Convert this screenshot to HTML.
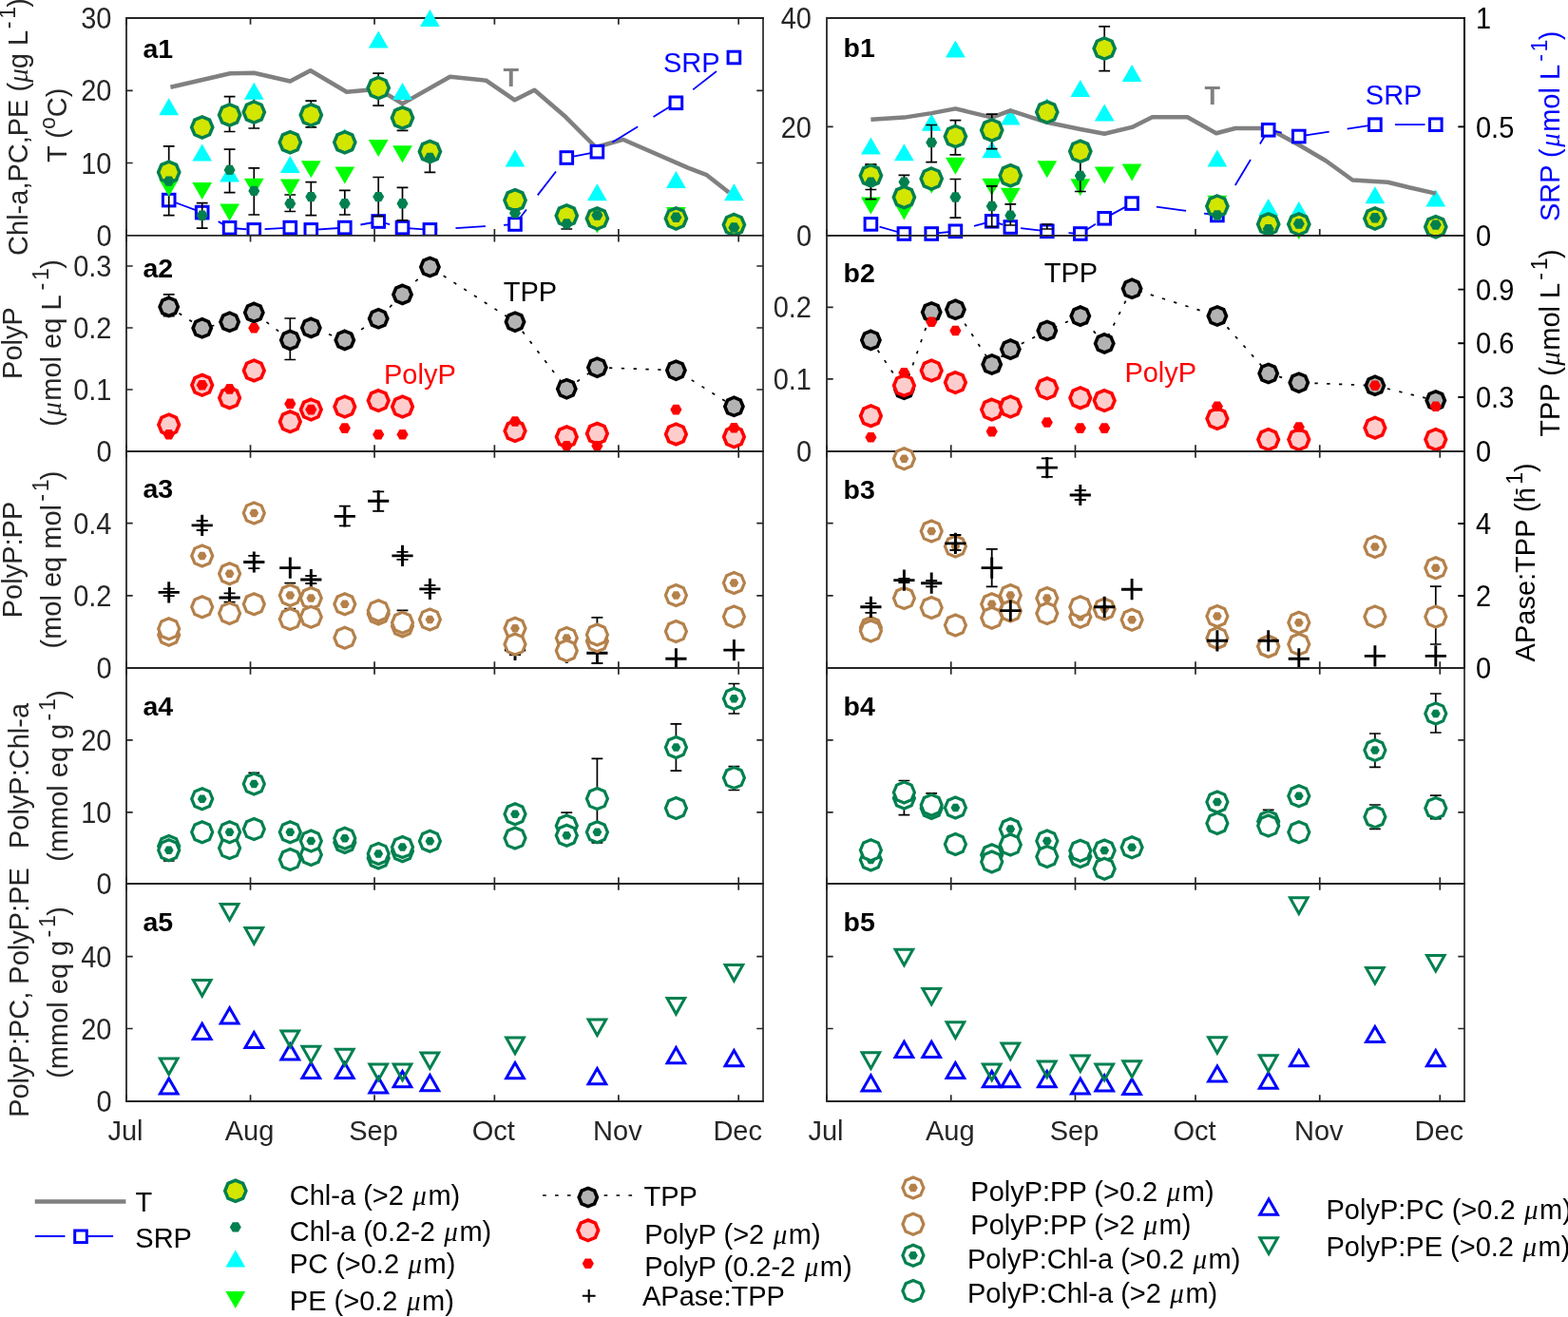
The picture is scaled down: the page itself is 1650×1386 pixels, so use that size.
<!DOCTYPE html><html><head><meta charset="utf-8"><title>Figure</title><style>html,body{margin:0;padding:0;background:#fff;}svg{display:block;}text{font-family:"Liberation Sans",Arial,sans-serif;}</style></head><body>
<svg width="1650" height="1386" viewBox="0 0 1650 1386">
<rect width="1650" height="1386" fill="#fff"/>
<rect x="133" y="19" width="670" height="228.8" fill="#fff"/>
<path d="M133 247.8V241.1M133 19V25.7M263.53 247.8V241.1M263.53 19V25.7M394.05 247.8V241.1M394.05 19V25.7M520.37 247.8V241.1M520.37 19V25.7M650.89 247.8V241.1M650.89 19V25.7M777.21 247.8V241.1M777.21 19V25.7M133 247.8H139.7M133 171.5H139.7M133 95.3H139.7" stroke="#262626" stroke-width="1.7" fill="none"/>
<path d="M803 247.8H796.3M803 171.5H796.3M803 95.3H796.3" stroke="#262626" stroke-width="1.7" fill="none"/>
<path d="M133 19H803M133 247.8H803M133 19V247.8" stroke="#262626" stroke-width="1.8" fill="none" stroke-linecap="square"/>
<path d="M803 19V247.8" stroke="#262626" stroke-width="1.7" fill="none" stroke-linecap="square"/>
<polyline points="179.4,91.7 242.2,77.3 267.3,76.7 305.3,85.5 326.7,74.2 364.8,96.8 398.2,93.8 423.5,109.1 473.6,80.7 511.8,84.8 541.6,105.3 562.4,94.8 595.5,123.3 627,155 655.5,146.8 724,176.6 743.7,184.2 767,202.5" fill="none" stroke="#808080" stroke-width="4.5" stroke-linejoin="round" stroke-linecap="butt"/>
<polyline points="177.7,210.6 212.7,223.6 241.6,239.8 267.3,241.9 305.3,239.6 327.3,241.9 362.8,239.6 398.2,233 423.5,239.6 452.4,241.9 542,236 596.3,166 628.4,159.7 711.4,108.3 772.4,60.5" fill="none" stroke="#0000ff" stroke-width="1.8" stroke-linejoin="round" stroke-dasharray="31.5 19.2" stroke-dashoffset="-6.1"/>
<rect x="171.4" y="204.3" width="12.6" height="12.6" fill="#fff" stroke="#0000ff" stroke-width="3"/>
<rect x="206.4" y="217.3" width="12.6" height="12.6" fill="#fff" stroke="#0000ff" stroke-width="3"/>
<rect x="235.3" y="233.5" width="12.6" height="12.6" fill="#fff" stroke="#0000ff" stroke-width="3"/>
<rect x="261" y="235.6" width="12.6" height="12.6" fill="#fff" stroke="#0000ff" stroke-width="3"/>
<rect x="299" y="233.3" width="12.6" height="12.6" fill="#fff" stroke="#0000ff" stroke-width="3"/>
<rect x="321" y="235.6" width="12.6" height="12.6" fill="#fff" stroke="#0000ff" stroke-width="3"/>
<rect x="356.5" y="233.3" width="12.6" height="12.6" fill="#fff" stroke="#0000ff" stroke-width="3"/>
<rect x="391.9" y="226.7" width="12.6" height="12.6" fill="#fff" stroke="#0000ff" stroke-width="3"/>
<rect x="417.2" y="233.3" width="12.6" height="12.6" fill="#fff" stroke="#0000ff" stroke-width="3"/>
<rect x="446.1" y="235.6" width="12.6" height="12.6" fill="#fff" stroke="#0000ff" stroke-width="3"/>
<rect x="535.7" y="229.7" width="12.6" height="12.6" fill="#fff" stroke="#0000ff" stroke-width="3"/>
<rect x="590" y="159.7" width="12.6" height="12.6" fill="#fff" stroke="#0000ff" stroke-width="3"/>
<rect x="622.1" y="153.4" width="12.6" height="12.6" fill="#fff" stroke="#0000ff" stroke-width="3"/>
<rect x="705.1" y="102" width="12.6" height="12.6" fill="#fff" stroke="#0000ff" stroke-width="3"/>
<rect x="766.1" y="54.2" width="12.6" height="12.6" fill="#fff" stroke="#0000ff" stroke-width="3"/>
<path d="M177.7 153.9V226.7M171.8 153.9H183.6M171.8 226.7H183.6" stroke="#000" stroke-width="1.7" fill="none"/>
<path d="M212.7 213.7V240.1M206.8 213.7H218.6M206.8 240.1H218.6" stroke="#000" stroke-width="1.7" fill="none"/>
<path d="M241.6 101.6V138.5M235.7 101.6H247.5M235.7 138.5H247.5" stroke="#000" stroke-width="1.7" fill="none"/>
<path d="M241.6 157.2V202.6M235.7 157.2H247.5M235.7 202.6H247.5" stroke="#000" stroke-width="1.7" fill="none"/>
<path d="M267.3 101V135M261.4 101H273.2M261.4 135H273.2" stroke="#000" stroke-width="1.7" fill="none"/>
<path d="M267.3 176.8V226M261.4 176.8H273.2M261.4 226H273.2" stroke="#000" stroke-width="1.7" fill="none"/>
<path d="M305.3 205V222.5M299.4 205H311.2M299.4 222.5H311.2" stroke="#000" stroke-width="1.7" fill="none"/>
<path d="M327.3 106.1V133.9M321.4 106.1H333.2M321.4 133.9H333.2" stroke="#000" stroke-width="1.7" fill="none"/>
<path d="M327.3 191.6V226.7M321.4 191.6H333.2M321.4 226.7H333.2" stroke="#000" stroke-width="1.7" fill="none"/>
<path d="M362.8 200.3V226M356.9 200.3H368.7M356.9 226H368.7" stroke="#000" stroke-width="1.7" fill="none"/>
<path d="M398.2 77.1V111.1M392.3 77.1H404.1M392.3 111.1H404.1" stroke="#000" stroke-width="1.7" fill="none"/>
<path d="M398.2 186.5V227.7M392.3 186.5H404.1M392.3 227.7H404.1" stroke="#000" stroke-width="1.7" fill="none"/>
<path d="M423.5 114V137.4M417.6 114H429.4M417.6 137.4H429.4" stroke="#000" stroke-width="1.7" fill="none"/>
<path d="M423.5 197.4V231.8M417.6 197.4H429.4M417.6 231.8H429.4" stroke="#000" stroke-width="1.7" fill="none"/>
<path d="M452.4 150V181.3M446.5 150H458.3M446.5 181.3H458.3" stroke="#000" stroke-width="1.7" fill="none"/>
<path d="M596.3 230V241M590.4 230H602.2M590.4 241H602.2" stroke="#000" stroke-width="1.7" fill="none"/>
<polygon points="177.7,103.3 188.1,121.3 167.3,121.3" fill="#00ffff"/>
<polygon points="212.7,151.5 223.1,169.5 202.3,169.5" fill="#00ffff"/>
<polygon points="241.6,173.4 252,191.4 231.2,191.4" fill="#00ffff"/>
<polygon points="267.3,86.8 277.7,104.8 256.9,104.8" fill="#00ffff"/>
<polygon points="305.3,164.1 315.7,182.1 294.9,182.1" fill="#00ffff"/>
<polygon points="362.8,135.2 373.2,153.2 352.4,153.2" fill="#00ffff"/>
<polygon points="398.2,32.4 408.6,50.4 387.8,50.4" fill="#00ffff"/>
<polygon points="423.5,87 433.9,105 413.1,105" fill="#00ffff"/>
<polygon points="452.4,10 462.8,28 442,28" fill="#00ffff"/>
<polygon points="542,157.4 552.4,175.4 531.6,175.4" fill="#00ffff"/>
<polygon points="628.4,193.3 638.8,211.3 618,211.3" fill="#00ffff"/>
<polygon points="711.4,180.1 721.8,198.1 701,198.1" fill="#00ffff"/>
<polygon points="772.4,193.3 782.8,211.3 762,211.3" fill="#00ffff"/>
<polygon points="167.3,188.8 188.1,188.8 177.7,206.8" fill="#00ff00"/>
<polygon points="202.3,191.9 223.1,191.9 212.7,209.9" fill="#00ff00"/>
<polygon points="231.2,214.6 252,214.6 241.6,232.6" fill="#00ff00"/>
<polygon points="256.9,187.8 277.7,187.8 267.3,205.8" fill="#00ff00"/>
<polygon points="294.9,188.4 315.7,188.4 305.3,206.4" fill="#00ff00"/>
<polygon points="316.9,169.2 337.7,169.2 327.3,187.2" fill="#00ff00"/>
<polygon points="352.4,175.4 373.2,175.4 362.8,193.4" fill="#00ff00"/>
<polygon points="387.8,147 408.6,147 398.2,165" fill="#00ff00"/>
<polygon points="413.1,153.2 433.9,153.2 423.5,171.2" fill="#00ff00"/>
<polygon points="618,227.5 638.8,227.5 628.4,245.5" fill="#00ff00"/>
<polygon points="701,218 721.8,218 711.4,236" fill="#00ff00"/>
<polygon points="177.7,170.2 185.55,173.45 188.8,181.3 185.55,189.15 177.7,192.4 169.85,189.15 166.6,181.3 169.85,173.45" fill="#d2e600" stroke="#00804f" stroke-width="3.5"/>
<polygon points="212.7,122.8 220.55,126.05 223.8,133.9 220.55,141.75 212.7,145 204.85,141.75 201.6,133.9 204.85,126.05" fill="#d2e600" stroke="#00804f" stroke-width="3.5"/>
<polygon points="241.6,109.9 249.45,113.15 252.7,121 249.45,128.85 241.6,132.1 233.75,128.85 230.5,121 233.75,113.15" fill="#d2e600" stroke="#00804f" stroke-width="3.5"/>
<polygon points="267.3,107 275.15,110.25 278.4,118.1 275.15,125.95 267.3,129.2 259.45,125.95 256.2,118.1 259.45,110.25" fill="#d2e600" stroke="#00804f" stroke-width="3.5"/>
<polygon points="305.3,138.7 313.15,141.95 316.4,149.8 313.15,157.65 305.3,160.9 297.45,157.65 294.2,149.8 297.45,141.95" fill="#d2e600" stroke="#00804f" stroke-width="3.5"/>
<polygon points="327.3,109.9 335.15,113.15 338.4,121 335.15,128.85 327.3,132.1 319.45,128.85 316.2,121 319.45,113.15" fill="#d2e600" stroke="#00804f" stroke-width="3.5"/>
<polygon points="362.8,138.7 370.65,141.95 373.9,149.8 370.65,157.65 362.8,160.9 354.95,157.65 351.7,149.8 354.95,141.95" fill="#d2e600" stroke="#00804f" stroke-width="3.5"/>
<polygon points="398.2,81.5 406.05,84.75 409.3,92.6 406.05,100.45 398.2,103.7 390.35,100.45 387.1,92.6 390.35,84.75" fill="#d2e600" stroke="#00804f" stroke-width="3.5"/>
<polygon points="423.5,112.9 431.35,116.15 434.6,124 431.35,131.85 423.5,135.1 415.65,131.85 412.4,124 415.65,116.15" fill="#d2e600" stroke="#00804f" stroke-width="3.5"/>
<polygon points="452.4,148.4 460.25,151.65 463.5,159.5 460.25,167.35 452.4,170.6 444.55,167.35 441.3,159.5 444.55,151.65" fill="#d2e600" stroke="#00804f" stroke-width="3.5"/>
<polygon points="542,199.7 549.85,202.95 553.1,210.8 549.85,218.65 542,221.9 534.15,218.65 530.9,210.8 534.15,202.95" fill="#d2e600" stroke="#00804f" stroke-width="3.5"/>
<polygon points="596.3,215.9 604.15,219.15 607.4,227 604.15,234.85 596.3,238.1 588.45,234.85 585.2,227 588.45,219.15" fill="#d2e600" stroke="#00804f" stroke-width="3.5"/>
<polygon points="628.4,218.8 636.25,222.05 639.5,229.9 636.25,237.75 628.4,241 620.55,237.75 617.3,229.9 620.55,222.05" fill="#d2e600" stroke="#00804f" stroke-width="3.5"/>
<polygon points="711.4,218.8 719.25,222.05 722.5,229.9 719.25,237.75 711.4,241 703.55,237.75 700.3,229.9 703.55,222.05" fill="#d2e600" stroke="#00804f" stroke-width="3.5"/>
<polygon points="772.4,225.5 780.25,228.75 783.5,236.6 780.25,244.45 772.4,247.7 764.55,244.45 761.3,236.6 764.55,228.75" fill="#d2e600" stroke="#00804f" stroke-width="3.5"/>
<polygon points="183.7,190.6 180.7,195.8 174.7,195.8 171.7,190.6 174.7,185.4 180.7,185.4" fill="#00804f"/>
<polygon points="218.7,226.7 215.7,231.9 209.7,231.9 206.7,226.7 209.7,221.5 215.7,221.5" fill="#00804f"/>
<polygon points="247.6,178.9 244.6,184.1 238.6,184.1 235.6,178.9 238.6,173.7 244.6,173.7" fill="#00804f"/>
<polygon points="273.3,200.9 270.3,206.1 264.3,206.1 261.3,200.9 264.3,195.7 270.3,195.7" fill="#00804f"/>
<polygon points="311.3,214.3 308.3,219.5 302.3,219.5 299.3,214.3 302.3,209.1 308.3,209.1" fill="#00804f"/>
<polygon points="333.3,207.1 330.3,212.3 324.3,212.3 321.3,207.1 324.3,201.9 330.3,201.9" fill="#00804f"/>
<polygon points="368.8,214.3 365.8,219.5 359.8,219.5 356.8,214.3 359.8,209.1 365.8,209.1" fill="#00804f"/>
<polygon points="404.2,207.1 401.2,212.3 395.2,212.3 392.2,207.1 395.2,201.9 401.2,201.9" fill="#00804f"/>
<polygon points="429.5,214.3 426.5,219.5 420.5,219.5 417.5,214.3 420.5,209.1 426.5,209.1" fill="#00804f"/>
<polygon points="458.4,165.9 455.4,171.1 449.4,171.1 446.4,165.9 449.4,160.7 455.4,160.7" fill="#00804f"/>
<polygon points="548,224.3 545,229.5 539,229.5 536,224.3 539,219.1 545,219.1" fill="#00804f"/>
<polygon points="602.3,235.5 599.3,240.7 593.3,240.7 590.3,235.5 593.3,230.3 599.3,230.3" fill="#00804f"/>
<polygon points="634.4,226.5 631.4,231.7 625.4,231.7 622.4,226.5 625.4,221.3 631.4,221.3" fill="#00804f"/>
<polygon points="717.4,228.7 714.4,233.9 708.4,233.9 705.4,228.7 708.4,223.5 714.4,223.5" fill="#00804f"/>
<polygon points="778.4,239.5 775.4,244.7 769.4,244.7 766.4,239.5 769.4,234.3 775.4,234.3" fill="#00804f"/>
<text x="150.5" y="60.8" font-size="28.5" text-anchor="start" fill="#000" font-weight="bold">a1</text>
<rect x="133" y="247.8" width="670" height="227.2" fill="#fff"/>
<path d="M133 475V468.3M133 247.8V254.5M263.53 475V468.3M263.53 247.8V254.5M394.05 475V468.3M394.05 247.8V254.5M520.37 475V468.3M520.37 247.8V254.5M650.89 475V468.3M650.89 247.8V254.5M777.21 475V468.3M777.21 247.8V254.5M133 475H139.7M133 410H139.7M133 345H139.7M133 280H139.7" stroke="#262626" stroke-width="1.7" fill="none"/>
<path d="M803 475H796.3M803 410H796.3M803 345H796.3M803 280H796.3" stroke="#262626" stroke-width="1.7" fill="none"/>
<path d="M133 247.8H803M133 475H803M133 247.8V475" stroke="#262626" stroke-width="1.8" fill="none" stroke-linecap="square"/>
<path d="M803 247.8V475" stroke="#262626" stroke-width="1.7" fill="none" stroke-linecap="square"/>
<polyline points="177.7,322.9 212.7,345.3 241.6,338.8 267.3,328.9 305.3,357.9 327.3,344.9 362.8,357.9 398.2,335.3 423.5,309.9 452.4,281 542,338.7 596.3,409.2 628.4,386.7 711.4,389.7 772.4,427.8" fill="none" stroke="#000" stroke-width="1.7" stroke-linejoin="round" stroke-dasharray="3.3 9.5"/>
<path d="M177.7 309.9V332.6M171.8 309.9H183.6M171.8 332.6H183.6" stroke="#000" stroke-width="1.7" fill="none"/>
<path d="M305.3 335V378.5M299.4 335H311.2M299.4 378.5H311.2" stroke="#000" stroke-width="1.7" fill="none"/>
<polygon points="177.7,313.3 184.49,316.11 187.3,322.9 184.49,329.69 177.7,332.5 170.91,329.69 168.1,322.9 170.91,316.11" fill="#b3b3b3" stroke="#000" stroke-width="3.6"/>
<polygon points="212.7,335.7 219.49,338.51 222.3,345.3 219.49,352.09 212.7,354.9 205.91,352.09 203.1,345.3 205.91,338.51" fill="#b3b3b3" stroke="#000" stroke-width="3.6"/>
<polygon points="241.6,329.2 248.39,332.01 251.2,338.8 248.39,345.59 241.6,348.4 234.81,345.59 232,338.8 234.81,332.01" fill="#b3b3b3" stroke="#000" stroke-width="3.6"/>
<polygon points="267.3,319.3 274.09,322.11 276.9,328.9 274.09,335.69 267.3,338.5 260.51,335.69 257.7,328.9 260.51,322.11" fill="#b3b3b3" stroke="#000" stroke-width="3.6"/>
<polygon points="305.3,348.3 312.09,351.11 314.9,357.9 312.09,364.69 305.3,367.5 298.51,364.69 295.7,357.9 298.51,351.11" fill="#b3b3b3" stroke="#000" stroke-width="3.6"/>
<polygon points="327.3,335.3 334.09,338.11 336.9,344.9 334.09,351.69 327.3,354.5 320.51,351.69 317.7,344.9 320.51,338.11" fill="#b3b3b3" stroke="#000" stroke-width="3.6"/>
<polygon points="362.8,348.3 369.59,351.11 372.4,357.9 369.59,364.69 362.8,367.5 356.01,364.69 353.2,357.9 356.01,351.11" fill="#b3b3b3" stroke="#000" stroke-width="3.6"/>
<polygon points="398.2,325.7 404.99,328.51 407.8,335.3 404.99,342.09 398.2,344.9 391.41,342.09 388.6,335.3 391.41,328.51" fill="#b3b3b3" stroke="#000" stroke-width="3.6"/>
<polygon points="423.5,300.3 430.29,303.11 433.1,309.9 430.29,316.69 423.5,319.5 416.71,316.69 413.9,309.9 416.71,303.11" fill="#b3b3b3" stroke="#000" stroke-width="3.6"/>
<polygon points="452.4,271.4 459.19,274.21 462,281 459.19,287.79 452.4,290.6 445.61,287.79 442.8,281 445.61,274.21" fill="#b3b3b3" stroke="#000" stroke-width="3.6"/>
<polygon points="542,329.1 548.79,331.91 551.6,338.7 548.79,345.49 542,348.3 535.21,345.49 532.4,338.7 535.21,331.91" fill="#b3b3b3" stroke="#000" stroke-width="3.6"/>
<polygon points="596.3,399.6 603.09,402.41 605.9,409.2 603.09,415.99 596.3,418.8 589.51,415.99 586.7,409.2 589.51,402.41" fill="#b3b3b3" stroke="#000" stroke-width="3.6"/>
<polygon points="628.4,377.1 635.19,379.91 638,386.7 635.19,393.49 628.4,396.3 621.61,393.49 618.8,386.7 621.61,379.91" fill="#b3b3b3" stroke="#000" stroke-width="3.6"/>
<polygon points="711.4,380.1 718.19,382.91 721,389.7 718.19,396.49 711.4,399.3 704.61,396.49 701.8,389.7 704.61,382.91" fill="#b3b3b3" stroke="#000" stroke-width="3.6"/>
<polygon points="772.4,418.2 779.19,421.01 782,427.8 779.19,434.59 772.4,437.4 765.61,434.59 762.8,427.8 765.61,421.01" fill="#b3b3b3" stroke="#000" stroke-width="3.6"/>
<polygon points="177.7,436.2 185.34,439.36 188.5,447 185.34,454.64 177.7,457.8 170.06,454.64 166.9,447 170.06,439.36" fill="#ffcccc" stroke="#ff0000" stroke-width="3.6"/>
<polygon points="212.7,394.5 220.34,397.66 223.5,405.3 220.34,412.94 212.7,416.1 205.06,412.94 201.9,405.3 205.06,397.66" fill="#ffcccc" stroke="#ff0000" stroke-width="3.6"/>
<polygon points="241.6,407.9 249.24,411.06 252.4,418.7 249.24,426.34 241.6,429.5 233.96,426.34 230.8,418.7 233.96,411.06" fill="#ffcccc" stroke="#ff0000" stroke-width="3.6"/>
<polygon points="267.3,379.1 274.94,382.26 278.1,389.9 274.94,397.54 267.3,400.7 259.66,397.54 256.5,389.9 259.66,382.26" fill="#ffcccc" stroke="#ff0000" stroke-width="3.6"/>
<polygon points="305.3,433 312.94,436.16 316.1,443.8 312.94,451.44 305.3,454.6 297.66,451.44 294.5,443.8 297.66,436.16" fill="#ffcccc" stroke="#ff0000" stroke-width="3.6"/>
<polygon points="327.3,420.3 334.94,423.46 338.1,431.1 334.94,438.74 327.3,441.9 319.66,438.74 316.5,431.1 319.66,423.46" fill="#ffcccc" stroke="#ff0000" stroke-width="3.6"/>
<polygon points="362.8,417.2 370.44,420.36 373.6,428 370.44,435.64 362.8,438.8 355.16,435.64 352,428 355.16,420.36" fill="#ffcccc" stroke="#ff0000" stroke-width="3.6"/>
<polygon points="398.2,410.8 405.84,413.96 409,421.6 405.84,429.24 398.2,432.4 390.56,429.24 387.4,421.6 390.56,413.96" fill="#ffcccc" stroke="#ff0000" stroke-width="3.6"/>
<polygon points="423.5,417.2 431.14,420.36 434.3,428 431.14,435.64 423.5,438.8 415.86,435.64 412.7,428 415.86,420.36" fill="#ffcccc" stroke="#ff0000" stroke-width="3.6"/>
<polygon points="542,442.8 549.64,445.96 552.8,453.6 549.64,461.24 542,464.4 534.36,461.24 531.2,453.6 534.36,445.96" fill="#ffcccc" stroke="#ff0000" stroke-width="3.6"/>
<polygon points="596.3,449 603.94,452.16 607.1,459.8 603.94,467.44 596.3,470.6 588.66,467.44 585.5,459.8 588.66,452.16" fill="#ffcccc" stroke="#ff0000" stroke-width="3.6"/>
<polygon points="628.4,445.5 636.04,448.66 639.2,456.3 636.04,463.94 628.4,467.1 620.76,463.94 617.6,456.3 620.76,448.66" fill="#ffcccc" stroke="#ff0000" stroke-width="3.6"/>
<polygon points="711.4,446.1 719.04,449.26 722.2,456.9 719.04,464.54 711.4,467.7 703.76,464.54 700.6,456.9 703.76,449.26" fill="#ffcccc" stroke="#ff0000" stroke-width="3.6"/>
<polygon points="772.4,449 780.04,452.16 783.2,459.8 780.04,467.44 772.4,470.6 764.76,467.44 761.6,459.8 764.76,452.16" fill="#ffcccc" stroke="#ff0000" stroke-width="3.6"/>
<polygon points="183.8,457.2 180.75,462.48 174.65,462.48 171.6,457.2 174.65,451.92 180.75,451.92" fill="#ff0000"/>
<polygon points="218.8,405.3 215.75,410.58 209.65,410.58 206.6,405.3 209.65,400.02 215.75,400.02" fill="#ff0000"/>
<polygon points="247.7,409.4 244.65,414.68 238.55,414.68 235.5,409.4 238.55,404.12 244.65,404.12" fill="#ff0000"/>
<polygon points="273.4,345.3 270.35,350.58 264.25,350.58 261.2,345.3 264.25,340.02 270.35,340.02" fill="#ff0000"/>
<polygon points="311.4,424.9 308.35,430.18 302.25,430.18 299.2,424.9 302.25,419.62 308.35,419.62" fill="#ff0000"/>
<polygon points="333.4,431.1 330.35,436.38 324.25,436.38 321.2,431.1 324.25,425.82 330.35,425.82" fill="#ff0000"/>
<polygon points="368.9,450.6 365.85,455.88 359.75,455.88 356.7,450.6 359.75,445.32 365.85,445.32" fill="#ff0000"/>
<polygon points="404.3,457.2 401.25,462.48 395.15,462.48 392.1,457.2 395.15,451.92 401.25,451.92" fill="#ff0000"/>
<polygon points="429.6,457.2 426.55,462.48 420.45,462.48 417.4,457.2 420.45,451.92 426.55,451.92" fill="#ff0000"/>
<polygon points="548.1,443.5 545.05,448.78 538.95,448.78 535.9,443.5 538.95,438.22 545.05,438.22" fill="#ff0000"/>
<polygon points="602.4,469.3 599.35,474.58 593.25,474.58 590.2,469.3 593.25,464.02 599.35,464.02" fill="#ff0000"/>
<polygon points="634.5,469.3 631.45,474.58 625.35,474.58 622.3,469.3 625.35,464.02 631.45,464.02" fill="#ff0000"/>
<polygon points="717.5,431.1 714.45,436.38 708.35,436.38 705.3,431.1 708.35,425.82 714.45,425.82" fill="#ff0000"/>
<polygon points="778.5,450.2 775.45,455.48 769.35,455.48 766.3,450.2 769.35,444.92 775.45,444.92" fill="#ff0000"/>
<text x="150.5" y="291.5" font-size="28.5" text-anchor="start" fill="#000" font-weight="bold">a2</text>
<rect x="133" y="475" width="670" height="228" fill="#fff"/>
<path d="M133 703V696.3M133 475V481.7M263.53 703V696.3M263.53 475V481.7M394.05 703V696.3M394.05 475V481.7M520.37 703V696.3M520.37 475V481.7M650.89 703V696.3M650.89 475V481.7M777.21 703V696.3M777.21 475V481.7M133 703H139.7M133 626.9H139.7M133 550.7H139.7" stroke="#262626" stroke-width="1.7" fill="none"/>
<path d="M803 703H796.3M803 626.9H796.3M803 550.7H796.3" stroke="#262626" stroke-width="1.7" fill="none"/>
<path d="M133 475H803M133 703H803M133 475V703" stroke="#262626" stroke-width="1.8" fill="none" stroke-linecap="square"/>
<path d="M803 475V703" stroke="#262626" stroke-width="1.7" fill="none" stroke-linecap="square"/>
<path d="M177.7 619.7V627.1M171.7 619.7H183.7M171.7 627.1H183.7" stroke="#000" stroke-width="1.8" fill="none"/>
<path d="M212.7 548V558M206.7 548H218.7M206.7 558H218.7" stroke="#000" stroke-width="1.8" fill="none"/>
<path d="M241.6 624.3V633.7M235.6 624.3H247.6M235.6 633.7H247.6" stroke="#000" stroke-width="1.8" fill="none"/>
<path d="M267.3 584.8V598.2M261.3 584.8H273.3M261.3 598.2H273.3" stroke="#000" stroke-width="1.8" fill="none"/>
<path d="M327.3 606V614M321.3 606H333.3M321.3 614H333.3" stroke="#000" stroke-width="1.8" fill="none"/>
<path d="M362.8 532.7V553.3M356.8 532.7H368.8M356.8 553.3H368.8" stroke="#000" stroke-width="1.8" fill="none"/>
<path d="M398.2 517.3V537.9M392.2 517.3H404.2M392.2 537.9H404.2" stroke="#000" stroke-width="1.8" fill="none"/>
<path d="M423.5 580.9V588.9M417.5 580.9H429.5M417.5 588.9H429.5" stroke="#000" stroke-width="1.8" fill="none"/>
<path d="M452.4 615.9V623.9M446.4 615.9H458.4M446.4 623.9H458.4" stroke="#000" stroke-width="1.8" fill="none"/>
<path d="M542 679V689M536 679H548M536 689H548" stroke="#000" stroke-width="1.8" fill="none"/>
<path d="M628.4 649.8V698M622.4 649.8H634.4M622.4 698H634.4" stroke="#000" stroke-width="1.8" fill="none"/>
<path d="M166.6 623.4H188.8M177.7 612.3V634.5" stroke="#000" stroke-width="2.9" fill="none"/>
<path d="M201.6 552.9H223.8M212.7 541.8V564" stroke="#000" stroke-width="2.9" fill="none"/>
<path d="M230.5 629H252.7M241.6 617.9V640.1" stroke="#000" stroke-width="2.9" fill="none"/>
<path d="M256.2 591.5H278.4M267.3 580.4V602.6" stroke="#000" stroke-width="2.9" fill="none"/>
<path d="M294.2 597.6H316.4M305.3 586.5V608.7" stroke="#000" stroke-width="2.9" fill="none"/>
<path d="M316.2 610H338.4M327.3 598.9V621.1" stroke="#000" stroke-width="2.9" fill="none"/>
<path d="M351.7 543.4H373.9M362.8 532.3V554.5" stroke="#000" stroke-width="2.9" fill="none"/>
<path d="M387.1 527.2H409.3M398.2 516.1V538.3" stroke="#000" stroke-width="2.9" fill="none"/>
<path d="M412.4 584.9H434.6M423.5 573.8V596" stroke="#000" stroke-width="2.9" fill="none"/>
<path d="M441.3 619.9H463.5M452.4 608.8V631" stroke="#000" stroke-width="2.9" fill="none"/>
<path d="M530.9 684H553.1M542 672.9V695.1" stroke="#000" stroke-width="2.9" fill="none"/>
<path d="M585.2 687H607.4M596.3 675.9V698.1" stroke="#000" stroke-width="2.9" fill="none"/>
<path d="M617.3 687.2H639.5M628.4 676.1V698.3" stroke="#000" stroke-width="2.9" fill="none"/>
<path d="M700.3 693.3H722.5M711.4 682.2V704.4" stroke="#000" stroke-width="2.9" fill="none"/>
<path d="M761.3 684.1H783.5M772.4 673V695.2" stroke="#000" stroke-width="2.9" fill="none"/>
<path d="M305.3 613.7V640.5M299.4 613.7H311.2M299.4 640.5H311.2" stroke="#000" stroke-width="1.7" fill="none"/>
<path d="M423.5 642.4V660M417.6 642.4H429.4M417.6 660H429.4" stroke="#000" stroke-width="1.7" fill="none"/>
<polygon points="177.7,657.2 185.48,660.42 188.7,668.2 185.48,675.98 177.7,679.2 169.92,675.98 166.7,668.2 169.92,660.42" fill="#fff" stroke="#b4814b" stroke-width="3.2"/>
<polygon points="182.6,668.2 180.15,672.44 175.25,672.44 172.8,668.2 175.25,663.96 180.15,663.96" fill="#b4814b"/>
<polygon points="212.7,573.9 220.48,577.12 223.7,584.9 220.48,592.68 212.7,595.9 204.92,592.68 201.7,584.9 204.92,577.12" fill="#fff" stroke="#b4814b" stroke-width="3.2"/>
<polygon points="217.6,584.9 215.15,589.14 210.25,589.14 207.8,584.9 210.25,580.66 215.15,580.66" fill="#b4814b"/>
<polygon points="241.6,592.8 249.38,596.02 252.6,603.8 249.38,611.58 241.6,614.8 233.82,611.58 230.6,603.8 233.82,596.02" fill="#fff" stroke="#b4814b" stroke-width="3.2"/>
<polygon points="246.5,603.8 244.05,608.04 239.15,608.04 236.7,603.8 239.15,599.56 244.05,599.56" fill="#b4814b"/>
<polygon points="267.3,528.9 275.08,532.12 278.3,539.9 275.08,547.68 267.3,550.9 259.52,547.68 256.3,539.9 259.52,532.12" fill="#fff" stroke="#b4814b" stroke-width="3.2"/>
<polygon points="272.2,539.9 269.75,544.14 264.85,544.14 262.4,539.9 264.85,535.66 269.75,535.66" fill="#b4814b"/>
<polygon points="305.3,615.5 313.08,618.72 316.3,626.5 313.08,634.28 305.3,637.5 297.52,634.28 294.3,626.5 297.52,618.72" fill="#fff" stroke="#b4814b" stroke-width="3.2"/>
<polygon points="310.2,626.5 307.75,630.74 302.85,630.74 300.4,626.5 302.85,622.26 307.75,622.26" fill="#b4814b"/>
<polygon points="327.3,618.6 335.08,621.82 338.3,629.6 335.08,637.38 327.3,640.6 319.52,637.38 316.3,629.6 319.52,621.82" fill="#fff" stroke="#b4814b" stroke-width="3.2"/>
<polygon points="332.2,629.6 329.75,633.84 324.85,633.84 322.4,629.6 324.85,625.36 329.75,625.36" fill="#b4814b"/>
<polygon points="362.8,624.8 370.58,628.02 373.8,635.8 370.58,643.58 362.8,646.8 355.02,643.58 351.8,635.8 355.02,628.02" fill="#fff" stroke="#b4814b" stroke-width="3.2"/>
<polygon points="367.7,635.8 365.25,640.04 360.35,640.04 357.9,635.8 360.35,631.56 365.25,631.56" fill="#b4814b"/>
<polygon points="398.2,635.1 405.98,638.32 409.2,646.1 405.98,653.88 398.2,657.1 390.42,653.88 387.2,646.1 390.42,638.32" fill="#fff" stroke="#b4814b" stroke-width="3.2"/>
<polygon points="403.1,646.1 400.65,650.34 395.75,650.34 393.3,646.1 395.75,641.86 400.65,641.86" fill="#b4814b"/>
<polygon points="423.5,648 431.28,651.22 434.5,659 431.28,666.78 423.5,670 415.72,666.78 412.5,659 415.72,651.22" fill="#fff" stroke="#b4814b" stroke-width="3.2"/>
<polygon points="428.4,659 425.95,663.24 421.05,663.24 418.6,659 421.05,654.76 425.95,654.76" fill="#b4814b"/>
<polygon points="452.4,640.9 460.18,644.12 463.4,651.9 460.18,659.68 452.4,662.9 444.62,659.68 441.4,651.9 444.62,644.12" fill="#fff" stroke="#b4814b" stroke-width="3.2"/>
<polygon points="457.3,651.9 454.85,656.14 449.95,656.14 447.5,651.9 449.95,647.66 454.85,647.66" fill="#b4814b"/>
<polygon points="542,650.3 549.78,653.52 553,661.3 549.78,669.08 542,672.3 534.22,669.08 531,661.3 534.22,653.52" fill="#fff" stroke="#b4814b" stroke-width="3.2"/>
<polygon points="546.9,661.3 544.45,665.54 539.55,665.54 537.1,661.3 539.55,657.06 544.45,657.06" fill="#b4814b"/>
<polygon points="596.3,660.4 604.08,663.62 607.3,671.4 604.08,679.18 596.3,682.4 588.52,679.18 585.3,671.4 588.52,663.62" fill="#fff" stroke="#b4814b" stroke-width="3.2"/>
<polygon points="601.2,671.4 598.75,675.64 593.85,675.64 591.4,671.4 593.85,667.16 598.75,667.16" fill="#b4814b"/>
<polygon points="628.4,663.7 636.18,666.92 639.4,674.7 636.18,682.48 628.4,685.7 620.62,682.48 617.4,674.7 620.62,666.92" fill="#fff" stroke="#b4814b" stroke-width="3.2"/>
<polygon points="633.3,674.7 630.85,678.94 625.95,678.94 623.5,674.7 625.95,670.46 630.85,670.46" fill="#b4814b"/>
<polygon points="711.4,615.5 719.18,618.72 722.4,626.5 719.18,634.28 711.4,637.5 703.62,634.28 700.4,626.5 703.62,618.72" fill="#fff" stroke="#b4814b" stroke-width="3.2"/>
<polygon points="716.3,626.5 713.85,630.74 708.95,630.74 706.5,626.5 708.95,622.26 713.85,622.26" fill="#b4814b"/>
<polygon points="772.4,602.5 780.18,605.72 783.4,613.5 780.18,621.28 772.4,624.5 764.62,621.28 761.4,613.5 764.62,605.72" fill="#fff" stroke="#b4814b" stroke-width="3.2"/>
<polygon points="777.3,613.5 774.85,617.74 769.95,617.74 767.5,613.5 769.95,609.26 774.85,609.26" fill="#b4814b"/>
<polygon points="177.7,650.7 185.48,653.92 188.7,661.7 185.48,669.48 177.7,672.7 169.92,669.48 166.7,661.7 169.92,653.92" fill="#fff" stroke="#b4814b" stroke-width="3.2"/>
<polygon points="212.7,627.8 220.48,631.02 223.7,638.8 220.48,646.58 212.7,649.8 204.92,646.58 201.7,638.8 204.92,631.02" fill="#fff" stroke="#b4814b" stroke-width="3.2"/>
<polygon points="241.6,634.4 249.38,637.62 252.6,645.4 249.38,653.18 241.6,656.4 233.82,653.18 230.6,645.4 233.82,637.62" fill="#fff" stroke="#b4814b" stroke-width="3.2"/>
<polygon points="267.3,624.8 275.08,628.02 278.3,635.8 275.08,643.58 267.3,646.8 259.52,643.58 256.3,635.8 259.52,628.02" fill="#fff" stroke="#b4814b" stroke-width="3.2"/>
<polygon points="305.3,640.6 313.08,643.82 316.3,651.6 313.08,659.38 305.3,662.6 297.52,659.38 294.3,651.6 297.52,643.82" fill="#fff" stroke="#b4814b" stroke-width="3.2"/>
<polygon points="327.3,638.2 335.08,641.42 338.3,649.2 335.08,656.98 327.3,660.2 319.52,656.98 316.3,649.2 319.52,641.42" fill="#fff" stroke="#b4814b" stroke-width="3.2"/>
<polygon points="362.8,660.2 370.58,663.42 373.8,671.2 370.58,678.98 362.8,682.2 355.02,678.98 351.8,671.2 355.02,663.42" fill="#fff" stroke="#b4814b" stroke-width="3.2"/>
<polygon points="398.2,631.7 405.98,634.92 409.2,642.7 405.98,650.48 398.2,653.7 390.42,650.48 387.2,642.7 390.42,634.92" fill="#fff" stroke="#b4814b" stroke-width="3.2"/>
<polygon points="423.5,644.3 431.28,647.52 434.5,655.3 431.28,663.08 423.5,666.3 415.72,663.08 412.5,655.3 415.72,647.52" fill="#fff" stroke="#b4814b" stroke-width="3.2"/>
<polygon points="542,667.1 549.78,670.32 553,678.1 549.78,685.88 542,689.1 534.22,685.88 531,678.1 534.22,670.32" fill="#fff" stroke="#b4814b" stroke-width="3.2"/>
<polygon points="596.3,673.8 604.08,677.02 607.3,684.8 604.08,692.58 596.3,695.8 588.52,692.58 585.3,684.8 588.52,677.02" fill="#fff" stroke="#b4814b" stroke-width="3.2"/>
<polygon points="628.4,657 636.18,660.22 639.4,668 636.18,675.78 628.4,679 620.62,675.78 617.4,668 620.62,660.22" fill="#fff" stroke="#b4814b" stroke-width="3.2"/>
<polygon points="711.4,653.6 719.18,656.82 722.4,664.6 719.18,672.38 711.4,675.6 703.62,672.38 700.4,664.6 703.62,656.82" fill="#fff" stroke="#b4814b" stroke-width="3.2"/>
<polygon points="772.4,637.9 780.18,641.12 783.4,648.9 780.18,656.68 772.4,659.9 764.62,656.68 761.4,648.9 764.62,641.12" fill="#fff" stroke="#b4814b" stroke-width="3.2"/>
<text x="150.5" y="523.5" font-size="28.5" text-anchor="start" fill="#000" font-weight="bold">a3</text>
<rect x="133" y="703" width="670" height="227" fill="#fff"/>
<path d="M133 930V923.3M133 703V709.7M263.53 930V923.3M263.53 703V709.7M394.05 930V923.3M394.05 703V709.7M520.37 930V923.3M520.37 703V709.7M650.89 930V923.3M650.89 703V709.7M777.21 930V923.3M777.21 703V709.7M133 930H139.7M133 854.9H139.7M133 778.9H139.7" stroke="#262626" stroke-width="1.7" fill="none"/>
<path d="M803 930H796.3M803 854.9H796.3M803 778.9H796.3" stroke="#262626" stroke-width="1.7" fill="none"/>
<path d="M133 703H803M133 930H803M133 703V930" stroke="#262626" stroke-width="1.8" fill="none" stroke-linecap="square"/>
<path d="M803 703V930" stroke="#262626" stroke-width="1.7" fill="none" stroke-linecap="square"/>
<path d="M177.7 884V906M171.8 884H183.6M171.8 906H183.6" stroke="#000" stroke-width="1.7" fill="none"/>
<path d="M267.3 813.3V830M261.4 813.3H273.2M261.4 830H273.2" stroke="#000" stroke-width="1.7" fill="none"/>
<path d="M596.3 855.2V883M590.4 855.2H602.2M590.4 883H602.2" stroke="#000" stroke-width="1.7" fill="none"/>
<path d="M628.4 798.3V886.9M622.5 798.3H634.3M622.5 886.9H634.3" stroke="#000" stroke-width="1.7" fill="none"/>
<path d="M711.4 761.8V811.2M705.5 761.8H717.3M705.5 811.2H717.3" stroke="#000" stroke-width="1.7" fill="none"/>
<path d="M772.4 719.5V751M766.5 719.5H778.3M766.5 751H778.3" stroke="#000" stroke-width="1.7" fill="none"/>
<path d="M772.4 806.7V831.5M766.5 806.7H778.3M766.5 831.5H778.3" stroke="#000" stroke-width="1.7" fill="none"/>
<polygon points="177.7,879.5 185.48,882.72 188.7,890.5 185.48,898.28 177.7,901.5 169.92,898.28 166.7,890.5 169.92,882.72" fill="#fff" stroke="#00804f" stroke-width="3.2"/>
<polygon points="212.7,864.7 220.48,867.92 223.7,875.7 220.48,883.48 212.7,886.7 204.92,883.48 201.7,875.7 204.92,867.92" fill="#fff" stroke="#00804f" stroke-width="3.2"/>
<polygon points="241.6,881.6 249.38,884.82 252.6,892.6 249.38,900.38 241.6,903.6 233.82,900.38 230.6,892.6 233.82,884.82" fill="#fff" stroke="#00804f" stroke-width="3.2"/>
<polygon points="267.3,861.6 275.08,864.82 278.3,872.6 275.08,880.38 267.3,883.6 259.52,880.38 256.3,872.6 259.52,864.82" fill="#fff" stroke="#00804f" stroke-width="3.2"/>
<polygon points="305.3,893.6 313.08,896.82 316.3,904.6 313.08,912.38 305.3,915.6 297.52,912.38 294.3,904.6 297.52,896.82" fill="#fff" stroke="#00804f" stroke-width="3.2"/>
<polygon points="327.3,888.4 335.08,891.62 338.3,899.4 335.08,907.18 327.3,910.4 319.52,907.18 316.3,899.4 319.52,891.62" fill="#fff" stroke="#00804f" stroke-width="3.2"/>
<polygon points="362.8,875.4 370.58,878.62 373.8,886.4 370.58,894.18 362.8,897.4 355.02,894.18 351.8,886.4 355.02,878.62" fill="#fff" stroke="#00804f" stroke-width="3.2"/>
<polygon points="398.2,891.9 405.98,895.12 409.2,902.9 405.98,910.68 398.2,913.9 390.42,910.68 387.2,902.9 390.42,895.12" fill="#fff" stroke="#00804f" stroke-width="3.2"/>
<polygon points="423.5,884.7 431.28,887.92 434.5,895.7 431.28,903.48 423.5,906.7 415.72,903.48 412.5,895.7 415.72,887.92" fill="#fff" stroke="#00804f" stroke-width="3.2"/>
<polygon points="542,871.1 549.78,874.32 553,882.1 549.78,889.88 542,893.1 534.22,889.88 531,882.1 534.22,874.32" fill="#fff" stroke="#00804f" stroke-width="3.2"/>
<polygon points="596.3,858.1 604.08,861.32 607.3,869.1 604.08,876.88 596.3,880.1 588.52,876.88 585.3,869.1 588.52,861.32" fill="#fff" stroke="#00804f" stroke-width="3.2"/>
<polygon points="628.4,829.6 636.18,832.82 639.4,840.6 636.18,848.38 628.4,851.6 620.62,848.38 617.4,840.6 620.62,832.82" fill="#fff" stroke="#00804f" stroke-width="3.2"/>
<polygon points="711.4,839.5 719.18,842.72 722.4,850.5 719.18,858.28 711.4,861.5 703.62,858.28 700.4,850.5 703.62,842.72" fill="#fff" stroke="#00804f" stroke-width="3.2"/>
<polygon points="772.4,807.6 780.18,810.82 783.4,818.6 780.18,826.38 772.4,829.6 764.62,826.38 761.4,818.6 764.62,810.82" fill="#fff" stroke="#00804f" stroke-width="3.2"/>
<polygon points="177.7,883.7 185.48,886.92 188.7,894.7 185.48,902.48 177.7,905.7 169.92,902.48 166.7,894.7 169.92,886.92" fill="#fff" stroke="#00804f" stroke-width="3.2"/>
<polygon points="182.6,894.7 180.15,898.94 175.25,898.94 172.8,894.7 175.25,890.46 180.15,890.46" fill="#00804f"/>
<polygon points="212.7,829.7 220.48,832.92 223.7,840.7 220.48,848.48 212.7,851.7 204.92,848.48 201.7,840.7 204.92,832.92" fill="#fff" stroke="#00804f" stroke-width="3.2"/>
<polygon points="217.6,840.7 215.15,844.94 210.25,844.94 207.8,840.7 210.25,836.46 215.15,836.46" fill="#00804f"/>
<polygon points="241.6,864.7 249.38,867.92 252.6,875.7 249.38,883.48 241.6,886.7 233.82,883.48 230.6,875.7 233.82,867.92" fill="#fff" stroke="#00804f" stroke-width="3.2"/>
<polygon points="246.5,875.7 244.05,879.94 239.15,879.94 236.7,875.7 239.15,871.46 244.05,871.46" fill="#00804f"/>
<polygon points="267.3,814 275.08,817.22 278.3,825 275.08,832.78 267.3,836 259.52,832.78 256.3,825 259.52,817.22" fill="#fff" stroke="#00804f" stroke-width="3.2"/>
<polygon points="272.2,825 269.75,829.24 264.85,829.24 262.4,825 264.85,820.76 269.75,820.76" fill="#00804f"/>
<polygon points="305.3,864.7 313.08,867.92 316.3,875.7 313.08,883.48 305.3,886.7 297.52,883.48 294.3,875.7 297.52,867.92" fill="#fff" stroke="#00804f" stroke-width="3.2"/>
<polygon points="310.2,875.7 307.75,879.94 302.85,879.94 300.4,875.7 302.85,871.46 307.75,871.46" fill="#00804f"/>
<polygon points="327.3,874 335.08,877.22 338.3,885 335.08,892.78 327.3,896 319.52,892.78 316.3,885 319.52,877.22" fill="#fff" stroke="#00804f" stroke-width="3.2"/>
<polygon points="332.2,885 329.75,889.24 324.85,889.24 322.4,885 324.85,880.76 329.75,880.76" fill="#00804f"/>
<polygon points="362.8,871.3 370.58,874.52 373.8,882.3 370.58,890.08 362.8,893.3 355.02,890.08 351.8,882.3 355.02,874.52" fill="#fff" stroke="#00804f" stroke-width="3.2"/>
<polygon points="367.7,882.3 365.25,886.54 360.35,886.54 357.9,882.3 360.35,878.06 365.25,878.06" fill="#00804f"/>
<polygon points="398.2,887.4 405.98,890.62 409.2,898.4 405.98,906.18 398.2,909.4 390.42,906.18 387.2,898.4 390.42,890.62" fill="#fff" stroke="#00804f" stroke-width="3.2"/>
<polygon points="403.1,898.4 400.65,902.64 395.75,902.64 393.3,898.4 395.75,894.16 400.65,894.16" fill="#00804f"/>
<polygon points="423.5,880.6 431.28,883.82 434.5,891.6 431.28,899.38 423.5,902.6 415.72,899.38 412.5,891.6 415.72,883.82" fill="#fff" stroke="#00804f" stroke-width="3.2"/>
<polygon points="428.4,891.6 425.95,895.84 421.05,895.84 418.6,891.6 421.05,887.36 425.95,887.36" fill="#00804f"/>
<polygon points="452.4,874.2 460.18,877.42 463.4,885.2 460.18,892.98 452.4,896.2 444.62,892.98 441.4,885.2 444.62,877.42" fill="#fff" stroke="#00804f" stroke-width="3.2"/>
<polygon points="457.3,885.2 454.85,889.44 449.95,889.44 447.5,885.2 449.95,880.96 454.85,880.96" fill="#00804f"/>
<polygon points="542,845.7 549.78,848.92 553,856.7 549.78,864.48 542,867.7 534.22,864.48 531,856.7 534.22,848.92" fill="#fff" stroke="#00804f" stroke-width="3.2"/>
<polygon points="546.9,856.7 544.45,860.94 539.55,860.94 537.1,856.7 539.55,852.46 544.45,852.46" fill="#00804f"/>
<polygon points="596.3,868.2 604.08,871.42 607.3,879.2 604.08,886.98 596.3,890.2 588.52,886.98 585.3,879.2 588.52,871.42" fill="#fff" stroke="#00804f" stroke-width="3.2"/>
<polygon points="601.2,879.2 598.75,883.44 593.85,883.44 591.4,879.2 593.85,874.96 598.75,874.96" fill="#00804f"/>
<polygon points="628.4,864.8 636.18,868.02 639.4,875.8 636.18,883.58 628.4,886.8 620.62,883.58 617.4,875.8 620.62,868.02" fill="#fff" stroke="#00804f" stroke-width="3.2"/>
<polygon points="633.3,875.8 630.85,880.04 625.95,880.04 623.5,875.8 625.95,871.56 630.85,871.56" fill="#00804f"/>
<polygon points="711.4,775.5 719.18,778.72 722.4,786.5 719.18,794.28 711.4,797.5 703.62,794.28 700.4,786.5 703.62,778.72" fill="#fff" stroke="#00804f" stroke-width="3.2"/>
<polygon points="716.3,786.5 713.85,790.74 708.95,790.74 706.5,786.5 708.95,782.26 713.85,782.26" fill="#00804f"/>
<polygon points="772.4,724.2 780.18,727.42 783.4,735.2 780.18,742.98 772.4,746.2 764.62,742.98 761.4,735.2 764.62,727.42" fill="#fff" stroke="#00804f" stroke-width="3.2"/>
<polygon points="777.3,735.2 774.85,739.44 769.95,739.44 767.5,735.2 769.95,730.96 774.85,730.96" fill="#00804f"/>
<text x="150.5" y="752.5" font-size="28.5" text-anchor="start" fill="#000" font-weight="bold">a4</text>
<rect x="133" y="930" width="670" height="229" fill="#fff"/>
<path d="M133 1159V1152.3M133 930V936.7M263.53 1159V1152.3M263.53 930V936.7M394.05 1159V1152.3M394.05 930V936.7M520.37 1159V1152.3M520.37 930V936.7M650.89 1159V1152.3M650.89 930V936.7M777.21 1159V1152.3M777.21 930V936.7M133 1159H139.7M133 1082.5H139.7M133 1006.7H139.7" stroke="#262626" stroke-width="1.7" fill="none"/>
<path d="M803 1159H796.3M803 1082.5H796.3M803 1006.7H796.3" stroke="#262626" stroke-width="1.7" fill="none"/>
<path d="M133 930H803M133 1159H803M133 930V1159" stroke="#262626" stroke-width="1.8" fill="none" stroke-linecap="square"/>
<path d="M803 930V1159" stroke="#262626" stroke-width="1.7" fill="none" stroke-linecap="square"/>
<polygon points="177.7,1134.9 187,1151.1 168.4,1151.1" fill="none" stroke="#0000ff" stroke-width="3"/>
<polygon points="212.7,1077.2 222,1093.4 203.4,1093.4" fill="none" stroke="#0000ff" stroke-width="3"/>
<polygon points="241.6,1060.7 250.9,1076.9 232.3,1076.9" fill="none" stroke="#0000ff" stroke-width="3"/>
<polygon points="267.3,1086.4 276.6,1102.6 258,1102.6" fill="none" stroke="#0000ff" stroke-width="3"/>
<polygon points="305.3,1098.8 314.6,1115 296,1115" fill="none" stroke="#0000ff" stroke-width="3"/>
<polygon points="327.3,1118.4 336.6,1134.6 318,1134.6" fill="none" stroke="#0000ff" stroke-width="3"/>
<polygon points="362.8,1118.4 372.1,1134.6 353.5,1134.6" fill="none" stroke="#0000ff" stroke-width="3"/>
<polygon points="398.2,1133.8 407.5,1150 388.9,1150" fill="none" stroke="#0000ff" stroke-width="3"/>
<polygon points="423.5,1127.6 432.8,1143.8 414.2,1143.8" fill="none" stroke="#0000ff" stroke-width="3"/>
<polygon points="452.4,1131.5 461.7,1147.7 443.1,1147.7" fill="none" stroke="#0000ff" stroke-width="3"/>
<polygon points="542,1118.5 551.3,1134.7 532.7,1134.7" fill="none" stroke="#0000ff" stroke-width="3"/>
<polygon points="628.4,1124.6 637.7,1140.8 619.1,1140.8" fill="none" stroke="#0000ff" stroke-width="3"/>
<polygon points="711.4,1102.6 720.7,1118.8 702.1,1118.8" fill="none" stroke="#0000ff" stroke-width="3"/>
<polygon points="772.4,1105.5 781.7,1121.7 763.1,1121.7" fill="none" stroke="#0000ff" stroke-width="3"/>
<polygon points="168.4,1114 187,1114 177.7,1130.6" fill="none" stroke="#00804f" stroke-width="3"/>
<polygon points="203.4,1031.5 222,1031.5 212.7,1048.1" fill="none" stroke="#00804f" stroke-width="3"/>
<polygon points="232.3,951.6 250.9,951.6 241.6,968.2" fill="none" stroke="#00804f" stroke-width="3"/>
<polygon points="258,976.5 276.6,976.5 267.3,993.1" fill="none" stroke="#00804f" stroke-width="3"/>
<polygon points="296,1085.1 314.6,1085.1 305.3,1101.7" fill="none" stroke="#00804f" stroke-width="3"/>
<polygon points="318,1101.2 336.6,1101.2 327.3,1117.8" fill="none" stroke="#00804f" stroke-width="3"/>
<polygon points="353.5,1104.3 372.1,1104.3 362.8,1120.9" fill="none" stroke="#00804f" stroke-width="3"/>
<polygon points="388.9,1120.1 407.5,1120.1 398.2,1136.7" fill="none" stroke="#00804f" stroke-width="3"/>
<polygon points="414.2,1120.1 432.8,1120.1 423.5,1136.7" fill="none" stroke="#00804f" stroke-width="3"/>
<polygon points="443.1,1107.9 461.7,1107.9 452.4,1124.5" fill="none" stroke="#00804f" stroke-width="3"/>
<polygon points="532.7,1092 551.3,1092 542,1108.6" fill="none" stroke="#00804f" stroke-width="3"/>
<polygon points="619.1,1072.9 637.7,1072.9 628.4,1089.5" fill="none" stroke="#00804f" stroke-width="3"/>
<polygon points="702.1,1050.5 720.7,1050.5 711.4,1067.1" fill="none" stroke="#00804f" stroke-width="3"/>
<polygon points="763.1,1015.5 781.7,1015.5 772.4,1032.1" fill="none" stroke="#00804f" stroke-width="3"/>
<text x="150.5" y="979.5" font-size="28.5" text-anchor="start" fill="#000" font-weight="bold">a5</text>
<rect x="870" y="19" width="671" height="228.8" fill="#fff"/>
<path d="M870 247.8V241.1M1000.74 247.8V241.1M1131.49 247.8V241.1M1258.01 247.8V241.1M1388.75 247.8V241.1M1515.28 247.8V241.1M870 247.8H876.7M870 133.4H876.7" stroke="#262626" stroke-width="1.7" fill="none"/>
<path d="M1541 133.4H1534.3" stroke="#000" stroke-width="1.9" fill="none"/>
<path d="M870 19H1541M870 247.8H1541M870 19V247.8" stroke="#262626" stroke-width="1.8" fill="none" stroke-linecap="square"/>
<path d="M1541 19V247.8" stroke="#000" stroke-width="1.9" fill="none" stroke-linecap="square"/>
<polygon points="916.4,144.5 926.8,162.5 906,162.5" fill="#00ffff"/>
<polygon points="951.4,151.3 961.8,169.3 941,169.3" fill="#00ffff"/>
<polygon points="980.2,119.8 990.6,137.8 969.8,137.8" fill="#00ffff"/>
<polygon points="1005.4,42.5 1015.8,60.5 995,60.5" fill="#00ffff"/>
<polygon points="1043.7,148.2 1054.1,166.2 1033.3,166.2" fill="#00ffff"/>
<polygon points="1063.3,113.6 1073.7,131.6 1052.9,131.6" fill="#00ffff"/>
<polygon points="1101.8,103.3 1112.2,121.3 1091.4,121.3" fill="#00ffff"/>
<polygon points="1136.8,84.1 1147.2,102.1 1126.4,102.1" fill="#00ffff"/>
<polygon points="1162.2,109.5 1172.6,127.5 1151.8,127.5" fill="#00ffff"/>
<polygon points="1191.1,67.9 1201.5,85.9 1180.7,85.9" fill="#00ffff"/>
<polygon points="1280.9,157.5 1291.3,175.5 1270.5,175.5" fill="#00ffff"/>
<polygon points="1334.7,209 1345.1,227 1324.3,227" fill="#00ffff"/>
<polygon points="1366.8,211.9 1377.2,229.9 1356.4,229.9" fill="#00ffff"/>
<polygon points="1446.9,196.2 1457.3,214.2 1436.5,214.2" fill="#00ffff"/>
<polygon points="1510.8,199.6 1521.2,217.6 1500.4,217.6" fill="#00ffff"/>
<polygon points="906,207.4 926.8,207.4 916.4,225.4" fill="#00ff00"/>
<polygon points="941,213.5 961.8,213.5 951.4,231.5" fill="#00ff00"/>
<polygon points="969.8,185.7 990.6,185.7 980.2,203.7" fill="#00ff00"/>
<polygon points="995,165.7 1015.8,165.7 1005.4,183.7" fill="#00ff00"/>
<polygon points="1033.3,187.8 1054.1,187.8 1043.7,205.8" fill="#00ff00"/>
<polygon points="1052.9,197.7 1073.7,197.7 1063.3,215.7" fill="#00ff00"/>
<polygon points="1091.4,169.2 1112.2,169.2 1101.8,187.2" fill="#00ff00"/>
<polygon points="1126.4,188.2 1147.2,188.2 1136.8,206.2" fill="#00ff00"/>
<polygon points="1151.8,175.4 1172.6,175.4 1162.2,193.4" fill="#00ff00"/>
<polygon points="1180.7,172.5 1201.5,172.5 1191.1,190.5" fill="#00ff00"/>
<polygon points="1270.5,205.8 1291.3,205.8 1280.9,223.8" fill="#00ff00"/>
<polygon points="1356.4,234 1377.2,234 1366.8,252" fill="#00ff00"/>
<polyline points="916.4,125.7 951.4,123.6 980.2,119.1 1005.4,114.4 1043.7,123.6 1063.3,116.4 1101.8,128.8 1136.8,136 1162.2,140.7 1191.1,133.9 1212.5,123.3 1249.5,123.3 1279.8,140.2 1300,135 1334.7,135 1366.8,152.5 1395.3,169.3 1423.3,189.5 1460.3,191.7 1482.8,197.3 1510.8,203.6" fill="none" stroke="#808080" stroke-width="4.5" stroke-linejoin="round" stroke-linecap="butt"/>
<polyline points="916.4,235.9 951.4,246 980.2,246 1005.4,243.3 1043.7,232.8 1063.3,239 1101.8,243.3 1136.8,246 1162.2,229.8 1191.1,214.1 1280.9,226.5 1334.7,136.8 1366.8,143.5 1446.9,131.2 1510.8,131.2" fill="none" stroke="#0000ff" stroke-width="1.8" stroke-linejoin="round" stroke-dasharray="31.5 19.2" stroke-dashoffset="-9.5"/>
<rect x="910.1" y="229.6" width="12.6" height="12.6" fill="#fff" stroke="#0000ff" stroke-width="3"/>
<rect x="945.1" y="239.7" width="12.6" height="12.6" fill="#fff" stroke="#0000ff" stroke-width="3"/>
<rect x="973.9" y="239.7" width="12.6" height="12.6" fill="#fff" stroke="#0000ff" stroke-width="3"/>
<rect x="999.1" y="237" width="12.6" height="12.6" fill="#fff" stroke="#0000ff" stroke-width="3"/>
<rect x="1037.4" y="226.5" width="12.6" height="12.6" fill="#fff" stroke="#0000ff" stroke-width="3"/>
<rect x="1057" y="232.7" width="12.6" height="12.6" fill="#fff" stroke="#0000ff" stroke-width="3"/>
<rect x="1095.5" y="237" width="12.6" height="12.6" fill="#fff" stroke="#0000ff" stroke-width="3"/>
<rect x="1130.5" y="239.7" width="12.6" height="12.6" fill="#fff" stroke="#0000ff" stroke-width="3"/>
<rect x="1155.9" y="223.5" width="12.6" height="12.6" fill="#fff" stroke="#0000ff" stroke-width="3"/>
<rect x="1184.8" y="207.8" width="12.6" height="12.6" fill="#fff" stroke="#0000ff" stroke-width="3"/>
<rect x="1274.6" y="220.2" width="12.6" height="12.6" fill="#fff" stroke="#0000ff" stroke-width="3"/>
<rect x="1328.4" y="130.5" width="12.6" height="12.6" fill="#fff" stroke="#0000ff" stroke-width="3"/>
<rect x="1360.5" y="137.2" width="12.6" height="12.6" fill="#fff" stroke="#0000ff" stroke-width="3"/>
<rect x="1440.6" y="124.9" width="12.6" height="12.6" fill="#fff" stroke="#0000ff" stroke-width="3"/>
<rect x="1504.5" y="124.9" width="12.6" height="12.6" fill="#fff" stroke="#0000ff" stroke-width="3"/>
<path d="M916.4 173.1V209.6M910.5 173.1H922.3M910.5 209.6H922.3" stroke="#000" stroke-width="1.7" fill="none"/>
<path d="M916.4 173.1V199.5M910.5 173.1H922.3M910.5 199.5H922.3" stroke="#000" stroke-width="1.7" fill="none"/>
<path d="M951.4 184.4V199M945.5 184.4H957.3M945.5 199H957.3" stroke="#000" stroke-width="1.7" fill="none"/>
<path d="M980.2 131.5V170.6M974.3 131.5H986.1M974.3 170.6H986.1" stroke="#000" stroke-width="1.7" fill="none"/>
<path d="M1005.4 126.7V162.8M999.5 126.7H1011.3M999.5 162.8H1011.3" stroke="#000" stroke-width="1.7" fill="none"/>
<path d="M1005.4 188.5V229.1M999.5 188.5H1011.3M999.5 229.1H1011.3" stroke="#000" stroke-width="1.7" fill="none"/>
<path d="M1043.7 120.1V156.6M1037.8 120.1H1049.6M1037.8 156.6H1049.6" stroke="#000" stroke-width="1.7" fill="none"/>
<path d="M1043.7 195.8V238.6M1037.8 195.8H1049.6M1037.8 238.6H1049.6" stroke="#000" stroke-width="1.7" fill="none"/>
<path d="M1063.3 214.9V237M1057.4 214.9H1069.2M1057.4 237H1069.2" stroke="#000" stroke-width="1.7" fill="none"/>
<path d="M1136.8 168.6V201.5M1130.9 168.6H1142.7M1130.9 201.5H1142.7" stroke="#000" stroke-width="1.7" fill="none"/>
<path d="M1162.2 27.8V74.6M1156.3 27.8H1168.1M1156.3 74.6H1168.1" stroke="#000" stroke-width="1.7" fill="none"/>
<path d="M1101.8 236V241M1095.9 236H1107.7M1095.9 241H1107.7" stroke="#000" stroke-width="1.7" fill="none"/>
<polygon points="916.4,173.7 924.25,176.95 927.5,184.8 924.25,192.65 916.4,195.9 908.55,192.65 905.3,184.8 908.55,176.95" fill="#d2e600" stroke="#00804f" stroke-width="3.5"/>
<polygon points="951.4,196.4 959.25,199.65 962.5,207.5 959.25,215.35 951.4,218.6 943.55,215.35 940.3,207.5 943.55,199.65" fill="#d2e600" stroke="#00804f" stroke-width="3.5"/>
<polygon points="980.2,177 988.05,180.25 991.3,188.1 988.05,195.95 980.2,199.2 972.35,195.95 969.1,188.1 972.35,180.25" fill="#d2e600" stroke="#00804f" stroke-width="3.5"/>
<polygon points="1005.4,132.5 1013.25,135.75 1016.5,143.6 1013.25,151.45 1005.4,154.7 997.55,151.45 994.3,143.6 997.55,135.75" fill="#d2e600" stroke="#00804f" stroke-width="3.5"/>
<polygon points="1043.7,125.9 1051.55,129.15 1054.8,137 1051.55,144.85 1043.7,148.1 1035.85,144.85 1032.6,137 1035.85,129.15" fill="#d2e600" stroke="#00804f" stroke-width="3.5"/>
<polygon points="1063.3,173.7 1071.15,176.95 1074.4,184.8 1071.15,192.65 1063.3,195.9 1055.45,192.65 1052.2,184.8 1055.45,176.95" fill="#d2e600" stroke="#00804f" stroke-width="3.5"/>
<polygon points="1101.8,106.8 1109.65,110.05 1112.9,117.9 1109.65,125.75 1101.8,129 1093.95,125.75 1090.7,117.9 1093.95,110.05" fill="#d2e600" stroke="#00804f" stroke-width="3.5"/>
<polygon points="1136.8,148.2 1144.65,151.45 1147.9,159.3 1144.65,167.15 1136.8,170.4 1128.95,167.15 1125.7,159.3 1128.95,151.45" fill="#d2e600" stroke="#00804f" stroke-width="3.5"/>
<polygon points="1162.2,40 1170.05,43.25 1173.3,51.1 1170.05,58.95 1162.2,62.2 1154.35,58.95 1151.1,51.1 1154.35,43.25" fill="#d2e600" stroke="#00804f" stroke-width="3.5"/>
<polygon points="1280.9,206 1288.75,209.25 1292,217.1 1288.75,224.95 1280.9,228.2 1273.05,224.95 1269.8,217.1 1273.05,209.25" fill="#d2e600" stroke="#00804f" stroke-width="3.5"/>
<polygon points="1334.7,224.8 1342.55,228.05 1345.8,235.9 1342.55,243.75 1334.7,247 1326.85,243.75 1323.6,235.9 1326.85,228.05" fill="#d2e600" stroke="#00804f" stroke-width="3.5"/>
<polygon points="1366.8,224.8 1374.65,228.05 1377.9,235.9 1374.65,243.75 1366.8,247 1358.95,243.75 1355.7,235.9 1358.95,228.05" fill="#d2e600" stroke="#00804f" stroke-width="3.5"/>
<polygon points="1446.9,218.8 1454.75,222.05 1458,229.9 1454.75,237.75 1446.9,241 1439.05,237.75 1435.8,229.9 1439.05,222.05" fill="#d2e600" stroke="#00804f" stroke-width="3.5"/>
<polygon points="1510.8,227.7 1518.65,230.95 1521.9,238.8 1518.65,246.65 1510.8,249.9 1502.95,246.65 1499.7,238.8 1502.95,230.95" fill="#d2e600" stroke="#00804f" stroke-width="3.5"/>
<polygon points="922.4,191.6 919.4,196.8 913.4,196.8 910.4,191.6 913.4,186.4 919.4,186.4" fill="#00804f"/>
<polygon points="957.4,191.6 954.4,196.8 948.4,196.8 945.4,191.6 948.4,186.4 954.4,186.4" fill="#00804f"/>
<polygon points="986.2,150 983.2,155.2 977.2,155.2 974.2,150 977.2,144.8 983.2,144.8" fill="#00804f"/>
<polygon points="1011.4,207.5 1008.4,212.7 1002.4,212.7 999.4,207.5 1002.4,202.3 1008.4,202.3" fill="#00804f"/>
<polygon points="1049.7,217 1046.7,222.2 1040.7,222.2 1037.7,217 1040.7,211.8 1046.7,211.8" fill="#00804f"/>
<polygon points="1069.3,226.7 1066.3,231.9 1060.3,231.9 1057.3,226.7 1060.3,221.5 1066.3,221.5" fill="#00804f"/>
<polygon points="1142.8,185 1139.8,190.2 1133.8,190.2 1130.8,185 1133.8,179.8 1139.8,179.8" fill="#00804f"/>
<polygon points="1286.9,226.5 1283.9,231.7 1277.9,231.7 1274.9,226.5 1277.9,221.3 1283.9,221.3" fill="#00804f"/>
<polygon points="1340.7,241.1 1337.7,246.3 1331.7,246.3 1328.7,241.1 1331.7,235.9 1337.7,235.9" fill="#00804f"/>
<polygon points="1372.8,235.5 1369.8,240.7 1363.8,240.7 1360.8,235.5 1363.8,230.3 1369.8,230.3" fill="#00804f"/>
<polygon points="1452.9,229.2 1449.9,234.4 1443.9,234.4 1440.9,229.2 1443.9,224 1449.9,224" fill="#00804f"/>
<polygon points="1516.8,236.6 1513.8,241.8 1507.8,241.8 1504.8,236.6 1507.8,231.4 1513.8,231.4" fill="#00804f"/>
<text x="887.5" y="59.8" font-size="28.5" text-anchor="start" fill="#000" font-weight="bold">b1</text>
<path d="M870 475V468.3M1000.74 475V468.3M1131.49 475V468.3M1258.01 475V468.3M1388.75 475V468.3M1515.28 475V468.3M870 475H876.7M870 398.9H876.7M870 323.3H876.7" stroke="#262626" stroke-width="1.7" fill="none"/>
<path d="M1541 418H1534.3M1541 361.3H1534.3M1541 304.6H1534.3" stroke="#000" stroke-width="1.9" fill="none"/>
<path d="M870 247.8H1541M870 475H1541M870 247.8V475" stroke="#262626" stroke-width="1.8" fill="none" stroke-linecap="square"/>
<path d="M1541 247.8V475" stroke="#000" stroke-width="1.9" fill="none" stroke-linecap="square"/>
<polyline points="916.4,357.9 951.4,409.8 980.2,328.5 1005.4,325.8 1043.7,383.5 1063.3,367.6 1101.8,348 1136.8,332.6 1162.2,361.4 1191.1,303.8 1280.9,332.5 1334.7,393 1366.8,402.7 1446.9,405.8 1510.8,421.5" fill="none" stroke="#000" stroke-width="1.7" stroke-linejoin="round" stroke-dasharray="3.3 9.5"/>
<polygon points="916.4,348.3 923.19,351.11 926,357.9 923.19,364.69 916.4,367.5 909.61,364.69 906.8,357.9 909.61,351.11" fill="#b3b3b3" stroke="#000" stroke-width="3.6"/>
<polygon points="951.4,400.2 958.19,403.01 961,409.8 958.19,416.59 951.4,419.4 944.61,416.59 941.8,409.8 944.61,403.01" fill="#b3b3b3" stroke="#000" stroke-width="3.6"/>
<polygon points="980.2,318.9 986.99,321.71 989.8,328.5 986.99,335.29 980.2,338.1 973.41,335.29 970.6,328.5 973.41,321.71" fill="#b3b3b3" stroke="#000" stroke-width="3.6"/>
<polygon points="1005.4,316.2 1012.19,319.01 1015,325.8 1012.19,332.59 1005.4,335.4 998.61,332.59 995.8,325.8 998.61,319.01" fill="#b3b3b3" stroke="#000" stroke-width="3.6"/>
<polygon points="1043.7,373.9 1050.49,376.71 1053.3,383.5 1050.49,390.29 1043.7,393.1 1036.91,390.29 1034.1,383.5 1036.91,376.71" fill="#b3b3b3" stroke="#000" stroke-width="3.6"/>
<polygon points="1063.3,358 1070.09,360.81 1072.9,367.6 1070.09,374.39 1063.3,377.2 1056.51,374.39 1053.7,367.6 1056.51,360.81" fill="#b3b3b3" stroke="#000" stroke-width="3.6"/>
<polygon points="1101.8,338.4 1108.59,341.21 1111.4,348 1108.59,354.79 1101.8,357.6 1095.01,354.79 1092.2,348 1095.01,341.21" fill="#b3b3b3" stroke="#000" stroke-width="3.6"/>
<polygon points="1136.8,323 1143.59,325.81 1146.4,332.6 1143.59,339.39 1136.8,342.2 1130.01,339.39 1127.2,332.6 1130.01,325.81" fill="#b3b3b3" stroke="#000" stroke-width="3.6"/>
<polygon points="1162.2,351.8 1168.99,354.61 1171.8,361.4 1168.99,368.19 1162.2,371 1155.41,368.19 1152.6,361.4 1155.41,354.61" fill="#b3b3b3" stroke="#000" stroke-width="3.6"/>
<polygon points="1191.1,294.2 1197.89,297.01 1200.7,303.8 1197.89,310.59 1191.1,313.4 1184.31,310.59 1181.5,303.8 1184.31,297.01" fill="#b3b3b3" stroke="#000" stroke-width="3.6"/>
<polygon points="1280.9,322.9 1287.69,325.71 1290.5,332.5 1287.69,339.29 1280.9,342.1 1274.11,339.29 1271.3,332.5 1274.11,325.71" fill="#b3b3b3" stroke="#000" stroke-width="3.6"/>
<polygon points="1334.7,383.4 1341.49,386.21 1344.3,393 1341.49,399.79 1334.7,402.6 1327.91,399.79 1325.1,393 1327.91,386.21" fill="#b3b3b3" stroke="#000" stroke-width="3.6"/>
<polygon points="1366.8,393.1 1373.59,395.91 1376.4,402.7 1373.59,409.49 1366.8,412.3 1360.01,409.49 1357.2,402.7 1360.01,395.91" fill="#b3b3b3" stroke="#000" stroke-width="3.6"/>
<polygon points="1446.9,396.2 1453.69,399.01 1456.5,405.8 1453.69,412.59 1446.9,415.4 1440.11,412.59 1437.3,405.8 1440.11,399.01" fill="#b3b3b3" stroke="#000" stroke-width="3.6"/>
<polygon points="1510.8,411.9 1517.59,414.71 1520.4,421.5 1517.59,428.29 1510.8,431.1 1504.01,428.29 1501.2,421.5 1504.01,414.71" fill="#b3b3b3" stroke="#000" stroke-width="3.6"/>
<polygon points="916.4,426.9 924.04,430.06 927.2,437.7 924.04,445.34 916.4,448.5 908.76,445.34 905.6,437.7 908.76,430.06" fill="#ffcccc" stroke="#ff0000" stroke-width="3.6"/>
<polygon points="951.4,394.9 959.04,398.06 962.2,405.7 959.04,413.34 951.4,416.5 943.76,413.34 940.6,405.7 943.76,398.06" fill="#ffcccc" stroke="#ff0000" stroke-width="3.6"/>
<polygon points="980.2,379.1 987.84,382.26 991,389.9 987.84,397.54 980.2,400.7 972.56,397.54 969.4,389.9 972.56,382.26" fill="#ffcccc" stroke="#ff0000" stroke-width="3.6"/>
<polygon points="1005.4,391.8 1013.04,394.96 1016.2,402.6 1013.04,410.24 1005.4,413.4 997.76,410.24 994.6,402.6 997.76,394.96" fill="#ffcccc" stroke="#ff0000" stroke-width="3.6"/>
<polygon points="1043.7,420.3 1051.34,423.46 1054.5,431.1 1051.34,438.74 1043.7,441.9 1036.06,438.74 1032.9,431.1 1036.06,423.46" fill="#ffcccc" stroke="#ff0000" stroke-width="3.6"/>
<polygon points="1063.3,417.2 1070.94,420.36 1074.1,428 1070.94,435.64 1063.3,438.8 1055.66,435.64 1052.5,428 1055.66,420.36" fill="#ffcccc" stroke="#ff0000" stroke-width="3.6"/>
<polygon points="1101.8,398 1109.44,401.16 1112.6,408.8 1109.44,416.44 1101.8,419.6 1094.16,416.44 1091,408.8 1094.16,401.16" fill="#ffcccc" stroke="#ff0000" stroke-width="3.6"/>
<polygon points="1136.8,407.9 1144.44,411.06 1147.6,418.7 1144.44,426.34 1136.8,429.5 1129.16,426.34 1126,418.7 1129.16,411.06" fill="#ffcccc" stroke="#ff0000" stroke-width="3.6"/>
<polygon points="1162.2,410.8 1169.84,413.96 1173,421.6 1169.84,429.24 1162.2,432.4 1154.56,429.24 1151.4,421.6 1154.56,413.96" fill="#ffcccc" stroke="#ff0000" stroke-width="3.6"/>
<polygon points="1280.9,429.8 1288.54,432.96 1291.7,440.6 1288.54,448.24 1280.9,451.4 1273.26,448.24 1270.1,440.6 1273.26,432.96" fill="#ffcccc" stroke="#ff0000" stroke-width="3.6"/>
<polygon points="1334.7,451.7 1342.34,454.86 1345.5,462.5 1342.34,470.14 1334.7,473.3 1327.06,470.14 1323.9,462.5 1327.06,454.86" fill="#ffcccc" stroke="#ff0000" stroke-width="3.6"/>
<polygon points="1366.8,451.7 1374.44,454.86 1377.6,462.5 1374.44,470.14 1366.8,473.3 1359.16,470.14 1356,462.5 1359.16,454.86" fill="#ffcccc" stroke="#ff0000" stroke-width="3.6"/>
<polygon points="1446.9,439.4 1454.54,442.56 1457.7,450.2 1454.54,457.84 1446.9,461 1439.26,457.84 1436.1,450.2 1439.26,442.56" fill="#ffcccc" stroke="#ff0000" stroke-width="3.6"/>
<polygon points="1510.8,451.7 1518.44,454.86 1521.6,462.5 1518.44,470.14 1510.8,473.3 1503.16,470.14 1500,462.5 1503.16,454.86" fill="#ffcccc" stroke="#ff0000" stroke-width="3.6"/>
<polygon points="922.5,460.3 919.45,465.58 913.35,465.58 910.3,460.3 913.35,455.02 919.45,455.02" fill="#ff0000"/>
<polygon points="957.5,392.3 954.45,397.58 948.35,397.58 945.3,392.3 948.35,387.02 954.45,387.02" fill="#ff0000"/>
<polygon points="986.3,338.8 983.25,344.08 977.15,344.08 974.1,338.8 977.15,333.52 983.25,333.52" fill="#ff0000"/>
<polygon points="1011.5,348 1008.45,353.28 1002.35,353.28 999.3,348 1002.35,342.72 1008.45,342.72" fill="#ff0000"/>
<polygon points="1049.8,454.1 1046.75,459.38 1040.65,459.38 1037.6,454.1 1040.65,448.82 1046.75,448.82" fill="#ff0000"/>
<polygon points="1107.9,444.5 1104.85,449.78 1098.75,449.78 1095.7,444.5 1098.75,439.22 1104.85,439.22" fill="#ff0000"/>
<polygon points="1142.9,450.6 1139.85,455.88 1133.75,455.88 1130.7,450.6 1133.75,445.32 1139.85,445.32" fill="#ff0000"/>
<polygon points="1168.3,450.6 1165.25,455.88 1159.15,455.88 1156.1,450.6 1159.15,445.32 1165.25,445.32" fill="#ff0000"/>
<polygon points="1287,427.8 1283.95,433.08 1277.85,433.08 1274.8,427.8 1277.85,422.52 1283.95,422.52" fill="#ff0000"/>
<polygon points="1372.9,449.5 1369.85,454.78 1363.75,454.78 1360.7,449.5 1363.75,444.22 1369.85,444.22" fill="#ff0000"/>
<polygon points="1453,405.8 1449.95,411.08 1443.85,411.08 1440.8,405.8 1443.85,400.52 1449.95,400.52" fill="#ff0000"/>
<polygon points="1516.9,427.8 1513.85,433.08 1507.75,433.08 1504.7,427.8 1507.75,422.52 1513.85,422.52" fill="#ff0000"/>
<text x="887.5" y="296.5" font-size="28.5" text-anchor="start" fill="#000" font-weight="bold">b2</text>
<rect x="870" y="475" width="671" height="228" fill="#fff"/>
<path d="M870 703V696.3M870 475V481.7M1000.74 703V696.3M1000.74 475V481.7M1131.49 703V696.3M1131.49 475V481.7M1258.01 703V696.3M1258.01 475V481.7M1388.75 703V696.3M1388.75 475V481.7M1515.28 703V696.3M1515.28 475V481.7M870 703H876.7M870 626.9H876.7M870 550.7H876.7" stroke="#262626" stroke-width="1.7" fill="none"/>
<path d="M1541 627H1534.3M1541 551H1534.3" stroke="#000" stroke-width="1.9" fill="none"/>
<path d="M870 475H1541M870 703H1541M870 475V703" stroke="#262626" stroke-width="1.8" fill="none" stroke-linecap="square"/>
<path d="M1541 475V703" stroke="#000" stroke-width="1.9" fill="none" stroke-linecap="square"/>
<path d="M1510.8 617.1V678M1504.9 617.1H1516.7M1504.9 678H1516.7" stroke="#000" stroke-width="1.7" fill="none"/>
<polygon points="916.4,649.5 924.18,652.72 927.4,660.5 924.18,668.28 916.4,671.5 908.62,668.28 905.4,660.5 908.62,652.72" fill="#fff" stroke="#b4814b" stroke-width="3.2"/>
<polygon points="921.3,660.5 918.85,664.74 913.95,664.74 911.5,660.5 913.95,656.26 918.85,656.26" fill="#b4814b"/>
<polygon points="951.4,471.7 959.18,474.92 962.4,482.7 959.18,490.48 951.4,493.7 943.62,490.48 940.4,482.7 943.62,474.92" fill="#fff" stroke="#b4814b" stroke-width="3.2"/>
<polygon points="956.3,482.7 953.85,486.94 948.95,486.94 946.5,482.7 948.95,478.46 953.85,478.46" fill="#b4814b"/>
<polygon points="980.2,548.1 987.98,551.32 991.2,559.1 987.98,566.88 980.2,570.1 972.42,566.88 969.2,559.1 972.42,551.32" fill="#fff" stroke="#b4814b" stroke-width="3.2"/>
<polygon points="985.1,559.1 982.65,563.34 977.75,563.34 975.3,559.1 977.75,554.86 982.65,554.86" fill="#b4814b"/>
<polygon points="1005.4,564 1013.18,567.22 1016.4,575 1013.18,582.78 1005.4,586 997.62,582.78 994.4,575 997.62,567.22" fill="#fff" stroke="#b4814b" stroke-width="3.2"/>
<polygon points="1010.3,575 1007.85,579.24 1002.95,579.24 1000.5,575 1002.95,570.76 1007.85,570.76" fill="#b4814b"/>
<polygon points="1043.7,624.8 1051.48,628.02 1054.7,635.8 1051.48,643.58 1043.7,646.8 1035.92,643.58 1032.7,635.8 1035.92,628.02" fill="#fff" stroke="#b4814b" stroke-width="3.2"/>
<polygon points="1048.6,635.8 1046.15,640.04 1041.25,640.04 1038.8,635.8 1041.25,631.56 1046.15,631.56" fill="#b4814b"/>
<polygon points="1063.3,615.5 1071.08,618.72 1074.3,626.5 1071.08,634.28 1063.3,637.5 1055.52,634.28 1052.3,626.5 1055.52,618.72" fill="#fff" stroke="#b4814b" stroke-width="3.2"/>
<polygon points="1068.2,626.5 1065.75,630.74 1060.85,630.74 1058.4,626.5 1060.85,622.26 1065.75,622.26" fill="#b4814b"/>
<polygon points="1101.8,618.6 1109.58,621.82 1112.8,629.6 1109.58,637.38 1101.8,640.6 1094.02,637.38 1090.8,629.6 1094.02,621.82" fill="#fff" stroke="#b4814b" stroke-width="3.2"/>
<polygon points="1106.7,629.6 1104.25,633.84 1099.35,633.84 1096.9,629.6 1099.35,625.36 1104.25,625.36" fill="#b4814b"/>
<polygon points="1136.8,638.2 1144.58,641.42 1147.8,649.2 1144.58,656.98 1136.8,660.2 1129.02,656.98 1125.8,649.2 1129.02,641.42" fill="#fff" stroke="#b4814b" stroke-width="3.2"/>
<polygon points="1141.7,649.2 1139.25,653.44 1134.35,653.44 1131.9,649.2 1134.35,644.96 1139.25,644.96" fill="#b4814b"/>
<polygon points="1162.2,629.9 1169.98,633.12 1173.2,640.9 1169.98,648.68 1162.2,651.9 1154.42,648.68 1151.2,640.9 1154.42,633.12" fill="#fff" stroke="#b4814b" stroke-width="3.2"/>
<polygon points="1167.1,640.9 1164.65,645.14 1159.75,645.14 1157.3,640.9 1159.75,636.66 1164.65,636.66" fill="#b4814b"/>
<polygon points="1191.1,641.2 1198.88,644.42 1202.1,652.2 1198.88,659.98 1191.1,663.2 1183.32,659.98 1180.1,652.2 1183.32,644.42" fill="#fff" stroke="#b4814b" stroke-width="3.2"/>
<polygon points="1196,652.2 1193.55,656.44 1188.65,656.44 1186.2,652.2 1188.65,647.96 1193.55,647.96" fill="#b4814b"/>
<polygon points="1280.9,637.5 1288.68,640.72 1291.9,648.5 1288.68,656.28 1280.9,659.5 1273.12,656.28 1269.9,648.5 1273.12,640.72" fill="#fff" stroke="#b4814b" stroke-width="3.2"/>
<polygon points="1285.8,648.5 1283.35,652.74 1278.45,652.74 1276,648.5 1278.45,644.26 1283.35,644.26" fill="#b4814b"/>
<polygon points="1334.7,669.3 1342.48,672.52 1345.7,680.3 1342.48,688.08 1334.7,691.3 1326.92,688.08 1323.7,680.3 1326.92,672.52" fill="#fff" stroke="#b4814b" stroke-width="3.2"/>
<polygon points="1339.6,680.3 1337.15,684.54 1332.25,684.54 1329.8,680.3 1332.25,676.06 1337.15,676.06" fill="#b4814b"/>
<polygon points="1366.8,644.2 1374.58,647.42 1377.8,655.2 1374.58,662.98 1366.8,666.2 1359.02,662.98 1355.8,655.2 1359.02,647.42" fill="#fff" stroke="#b4814b" stroke-width="3.2"/>
<polygon points="1371.7,655.2 1369.25,659.44 1364.35,659.44 1361.9,655.2 1364.35,650.96 1369.25,650.96" fill="#b4814b"/>
<polygon points="1446.9,564.4 1454.68,567.62 1457.9,575.4 1454.68,583.18 1446.9,586.4 1439.12,583.18 1435.9,575.4 1439.12,567.62" fill="#fff" stroke="#b4814b" stroke-width="3.2"/>
<polygon points="1451.8,575.4 1449.35,579.64 1444.45,579.64 1442,575.4 1444.45,571.16 1449.35,571.16" fill="#b4814b"/>
<polygon points="1510.8,586.8 1518.58,590.02 1521.8,597.8 1518.58,605.58 1510.8,608.8 1503.02,605.58 1499.8,597.8 1503.02,590.02" fill="#fff" stroke="#b4814b" stroke-width="3.2"/>
<polygon points="1515.7,597.8 1513.25,602.04 1508.35,602.04 1505.9,597.8 1508.35,593.56 1513.25,593.56" fill="#b4814b"/>
<polygon points="916.4,653 924.18,656.22 927.4,664 924.18,671.78 916.4,675 908.62,671.78 905.4,664 908.62,656.22" fill="#fff" stroke="#b4814b" stroke-width="3.2"/>
<polygon points="951.4,618.6 959.18,621.82 962.4,629.6 959.18,637.38 951.4,640.6 943.62,637.38 940.4,629.6 943.62,621.82" fill="#fff" stroke="#b4814b" stroke-width="3.2"/>
<polygon points="980.2,628.5 987.98,631.72 991.2,639.5 987.98,647.28 980.2,650.5 972.42,647.28 969.2,639.5 972.42,631.72" fill="#fff" stroke="#b4814b" stroke-width="3.2"/>
<polygon points="1005.4,647 1013.18,650.22 1016.4,658 1013.18,665.78 1005.4,669 997.62,665.78 994.4,658 997.62,650.22" fill="#fff" stroke="#b4814b" stroke-width="3.2"/>
<polygon points="1043.7,639.2 1051.48,642.42 1054.7,650.2 1051.48,657.98 1043.7,661.2 1035.92,657.98 1032.7,650.2 1035.92,642.42" fill="#fff" stroke="#b4814b" stroke-width="3.2"/>
<polygon points="1063.3,632 1071.08,635.22 1074.3,643 1071.08,650.78 1063.3,654 1055.52,650.78 1052.3,643 1055.52,635.22" fill="#fff" stroke="#b4814b" stroke-width="3.2"/>
<polygon points="1101.8,634.6 1109.58,637.82 1112.8,645.6 1109.58,653.38 1101.8,656.6 1094.02,653.38 1090.8,645.6 1094.02,637.82" fill="#fff" stroke="#b4814b" stroke-width="3.2"/>
<polygon points="1136.8,627.8 1144.58,631.02 1147.8,638.8 1144.58,646.58 1136.8,649.8 1129.02,646.58 1125.8,638.8 1129.02,631.02" fill="#fff" stroke="#b4814b" stroke-width="3.2"/>
<polygon points="1280.9,660.4 1288.68,663.62 1291.9,671.4 1288.68,679.18 1280.9,682.4 1273.12,679.18 1269.9,671.4 1273.12,663.62" fill="#fff" stroke="#b4814b" stroke-width="3.2"/>
<polygon points="1334.7,669.3 1342.48,672.52 1345.7,680.3 1342.48,688.08 1334.7,691.3 1326.92,688.08 1323.7,680.3 1326.92,672.52" fill="#fff" stroke="#b4814b" stroke-width="3.2"/>
<polygon points="1366.8,667.1 1374.58,670.32 1377.8,678.1 1374.58,685.88 1366.8,689.1 1359.02,685.88 1355.8,678.1 1359.02,670.32" fill="#fff" stroke="#b4814b" stroke-width="3.2"/>
<polygon points="1446.9,637.9 1454.68,641.12 1457.9,648.9 1454.68,656.68 1446.9,659.9 1439.12,656.68 1435.9,648.9 1439.12,641.12" fill="#fff" stroke="#b4814b" stroke-width="3.2"/>
<polygon points="1510.8,637.9 1518.58,641.12 1521.8,648.9 1518.58,656.68 1510.8,659.9 1503.02,656.68 1499.8,648.9 1503.02,641.12" fill="#fff" stroke="#b4814b" stroke-width="3.2"/>
<path d="M916.4 634.8V644.9M910.4 634.8H922.4M910.4 644.9H922.4" stroke="#000" stroke-width="1.8" fill="none"/>
<path d="M1005.4 563V579M999.4 563H1011.4M999.4 579H1011.4" stroke="#000" stroke-width="1.8" fill="none"/>
<path d="M1043.7 577.8V617.4M1037.7 577.8H1049.7M1037.7 617.4H1049.7" stroke="#000" stroke-width="1.8" fill="none"/>
<path d="M1101.8 482.3V501.9M1095.8 482.3H1107.8M1095.8 501.9H1107.8" stroke="#000" stroke-width="1.8" fill="none"/>
<path d="M1136.8 516V526M1130.8 516H1142.8M1130.8 526H1142.8" stroke="#000" stroke-width="1.8" fill="none"/>
<path d="M951.4 608.8V613M945.4 608.8H957.4M945.4 613H957.4" stroke="#000" stroke-width="1.8" fill="none"/>
<path d="M980.2 611V617.3M974.2 611H986.2M974.2 617.3H986.2" stroke="#000" stroke-width="1.8" fill="none"/>
<path d="M905.3 638.8H927.5M916.4 627.7V649.9" stroke="#000" stroke-width="2.9" fill="none"/>
<path d="M940.3 610.6H962.5M951.4 599.5V621.7" stroke="#000" stroke-width="2.9" fill="none"/>
<path d="M969.1 613.7H991.3M980.2 602.6V624.8" stroke="#000" stroke-width="2.9" fill="none"/>
<path d="M994.3 571.9H1016.5M1005.4 560.8V583" stroke="#000" stroke-width="2.9" fill="none"/>
<path d="M1032.6 597.6H1054.8M1043.7 586.5V608.7" stroke="#000" stroke-width="2.9" fill="none"/>
<path d="M1052.2 642.6H1074.4M1063.3 631.5V653.7" stroke="#000" stroke-width="2.9" fill="none"/>
<path d="M1090.7 492.1H1112.9M1101.8 481V503.2" stroke="#000" stroke-width="2.9" fill="none"/>
<path d="M1125.7 521H1147.9M1136.8 509.9V532.1" stroke="#000" stroke-width="2.9" fill="none"/>
<path d="M1151.1 638.8H1173.3M1162.2 627.7V649.9" stroke="#000" stroke-width="2.9" fill="none"/>
<path d="M1180 620.2H1202.2M1191.1 609.1V631.3" stroke="#000" stroke-width="2.9" fill="none"/>
<path d="M1269.8 674.3H1292M1280.9 663.2V685.4" stroke="#000" stroke-width="2.9" fill="none"/>
<path d="M1323.6 674.3H1345.8M1334.7 663.2V685.4" stroke="#000" stroke-width="2.9" fill="none"/>
<path d="M1355.7 693.3H1377.9M1366.8 682.2V704.4" stroke="#000" stroke-width="2.9" fill="none"/>
<path d="M1435.8 690.4H1458M1446.9 679.3V701.5" stroke="#000" stroke-width="2.9" fill="none"/>
<path d="M1499.7 690.4H1521.9M1510.8 679.3V701.5" stroke="#000" stroke-width="2.9" fill="none"/>
<text x="887.5" y="524.5" font-size="28.5" text-anchor="start" fill="#000" font-weight="bold">b3</text>
<rect x="870" y="703" width="671" height="227" fill="#fff"/>
<path d="M870 930V923.3M870 703V709.7M1000.74 930V923.3M1000.74 703V709.7M1131.49 930V923.3M1131.49 703V709.7M1258.01 930V923.3M1258.01 703V709.7M1388.75 930V923.3M1388.75 703V709.7M1515.28 930V923.3M1515.28 703V709.7M870 930H876.7M870 854.9H876.7M870 778.9H876.7" stroke="#262626" stroke-width="1.7" fill="none"/>
<path d="M1541 930H1534.3M1541 854.9H1534.3M1541 778.9H1534.3" stroke="#262626" stroke-width="1.7" fill="none"/>
<path d="M870 703H1541M870 930H1541M870 703V930" stroke="#262626" stroke-width="1.8" fill="none" stroke-linecap="square"/>
<path d="M1541 703V930" stroke="#262626" stroke-width="1.7" fill="none" stroke-linecap="square"/>
<path d="M951.4 821.5V857.6M945.5 821.5H957.3M945.5 857.6H957.3" stroke="#000" stroke-width="1.7" fill="none"/>
<path d="M980.2 834.9V852M974.3 834.9H986.1M974.3 852H986.1" stroke="#000" stroke-width="1.7" fill="none"/>
<path d="M1334.7 852.3V877M1328.8 852.3H1340.6M1328.8 877H1340.6" stroke="#000" stroke-width="1.7" fill="none"/>
<path d="M1446.9 772V807.4M1441 772H1452.8M1441 807.4H1452.8" stroke="#000" stroke-width="1.7" fill="none"/>
<path d="M1446.9 847V872.4M1441 847H1452.8M1441 872.4H1452.8" stroke="#000" stroke-width="1.7" fill="none"/>
<path d="M1510.8 730V771M1504.9 730H1516.7M1504.9 771H1516.7" stroke="#000" stroke-width="1.7" fill="none"/>
<path d="M1510.8 837.2V861.7M1504.9 837.2H1516.7M1504.9 861.7H1516.7" stroke="#000" stroke-width="1.7" fill="none"/>
<polygon points="916.4,894 924.18,897.22 927.4,905 924.18,912.78 916.4,916 908.62,912.78 905.4,905 908.62,897.22" fill="#fff" stroke="#00804f" stroke-width="3.2"/>
<polygon points="921.3,905 918.85,909.24 913.95,909.24 911.5,905 913.95,900.76 918.85,900.76" fill="#00804f"/>
<polygon points="951.4,829 959.18,832.22 962.4,840 959.18,847.78 951.4,851 943.62,847.78 940.4,840 943.62,832.22" fill="#fff" stroke="#00804f" stroke-width="3.2"/>
<polygon points="956.3,840 953.85,844.24 948.95,844.24 946.5,840 948.95,835.76 953.85,835.76" fill="#00804f"/>
<polygon points="980.2,839.4 987.98,842.62 991.2,850.4 987.98,858.18 980.2,861.4 972.42,858.18 969.2,850.4 972.42,842.62" fill="#fff" stroke="#00804f" stroke-width="3.2"/>
<polygon points="985.1,850.4 982.65,854.64 977.75,854.64 975.3,850.4 977.75,846.16 982.65,846.16" fill="#00804f"/>
<polygon points="1005.4,839 1013.18,842.22 1016.4,850 1013.18,857.78 1005.4,861 997.62,857.78 994.4,850 997.62,842.22" fill="#fff" stroke="#00804f" stroke-width="3.2"/>
<polygon points="1010.3,850 1007.85,854.24 1002.95,854.24 1000.5,850 1002.95,845.76 1007.85,845.76" fill="#00804f"/>
<polygon points="1043.7,888.8 1051.48,892.02 1054.7,899.8 1051.48,907.58 1043.7,910.8 1035.92,907.58 1032.7,899.8 1035.92,892.02" fill="#fff" stroke="#00804f" stroke-width="3.2"/>
<polygon points="1048.6,899.8 1046.15,904.04 1041.25,904.04 1038.8,899.8 1041.25,895.56 1046.15,895.56" fill="#00804f"/>
<polygon points="1063.3,861.6 1071.08,864.82 1074.3,872.6 1071.08,880.38 1063.3,883.6 1055.52,880.38 1052.3,872.6 1055.52,864.82" fill="#fff" stroke="#00804f" stroke-width="3.2"/>
<polygon points="1068.2,872.6 1065.75,876.84 1060.85,876.84 1058.4,872.6 1060.85,868.36 1065.75,868.36" fill="#00804f"/>
<polygon points="1101.8,874 1109.58,877.22 1112.8,885 1109.58,892.78 1101.8,896 1094.02,892.78 1090.8,885 1094.02,877.22" fill="#fff" stroke="#00804f" stroke-width="3.2"/>
<polygon points="1106.7,885 1104.25,889.24 1099.35,889.24 1096.9,885 1099.35,880.76 1104.25,880.76" fill="#00804f"/>
<polygon points="1136.8,890.5 1144.58,893.72 1147.8,901.5 1144.58,909.28 1136.8,912.5 1129.02,909.28 1125.8,901.5 1129.02,893.72" fill="#fff" stroke="#00804f" stroke-width="3.2"/>
<polygon points="1141.7,901.5 1139.25,905.74 1134.35,905.74 1131.9,901.5 1134.35,897.26 1139.25,897.26" fill="#00804f"/>
<polygon points="1162.2,884.1 1169.98,887.32 1173.2,895.1 1169.98,902.88 1162.2,906.1 1154.42,902.88 1151.2,895.1 1154.42,887.32" fill="#fff" stroke="#00804f" stroke-width="3.2"/>
<polygon points="1167.1,895.1 1164.65,899.34 1159.75,899.34 1157.3,895.1 1159.75,890.86 1164.65,890.86" fill="#00804f"/>
<polygon points="1191.1,880.8 1198.88,884.02 1202.1,891.8 1198.88,899.58 1191.1,902.8 1183.32,899.58 1180.1,891.8 1183.32,884.02" fill="#fff" stroke="#00804f" stroke-width="3.2"/>
<polygon points="1196,891.8 1193.55,896.04 1188.65,896.04 1186.2,891.8 1188.65,887.56 1193.55,887.56" fill="#00804f"/>
<polygon points="1280.9,833 1288.68,836.22 1291.9,844 1288.68,851.78 1280.9,855 1273.12,851.78 1269.9,844 1273.12,836.22" fill="#fff" stroke="#00804f" stroke-width="3.2"/>
<polygon points="1285.8,844 1283.35,848.24 1278.45,848.24 1276,844 1278.45,839.76 1283.35,839.76" fill="#00804f"/>
<polygon points="1334.7,853.6 1342.48,856.82 1345.7,864.6 1342.48,872.38 1334.7,875.6 1326.92,872.38 1323.7,864.6 1326.92,856.82" fill="#fff" stroke="#00804f" stroke-width="3.2"/>
<polygon points="1339.6,864.6 1337.15,868.84 1332.25,868.84 1329.8,864.6 1332.25,860.36 1337.15,860.36" fill="#00804f"/>
<polygon points="1366.8,826.7 1374.58,829.92 1377.8,837.7 1374.58,845.48 1366.8,848.7 1359.02,845.48 1355.8,837.7 1359.02,829.92" fill="#fff" stroke="#00804f" stroke-width="3.2"/>
<polygon points="1371.7,837.7 1369.25,841.94 1364.35,841.94 1361.9,837.7 1364.35,833.46 1369.25,833.46" fill="#00804f"/>
<polygon points="1446.9,778.5 1454.68,781.72 1457.9,789.5 1454.68,797.28 1446.9,800.5 1439.12,797.28 1435.9,789.5 1439.12,781.72" fill="#fff" stroke="#00804f" stroke-width="3.2"/>
<polygon points="1451.8,789.5 1449.35,793.74 1444.45,793.74 1442,789.5 1444.45,785.26 1449.35,785.26" fill="#00804f"/>
<polygon points="1510.8,739.9 1518.58,743.12 1521.8,750.9 1518.58,758.68 1510.8,761.9 1503.02,758.68 1499.8,750.9 1503.02,743.12" fill="#fff" stroke="#00804f" stroke-width="3.2"/>
<polygon points="1515.7,750.9 1513.25,755.14 1508.35,755.14 1505.9,750.9 1508.35,746.66 1513.25,746.66" fill="#00804f"/>
<polygon points="916.4,883.7 924.18,886.92 927.4,894.7 924.18,902.48 916.4,905.7 908.62,902.48 905.4,894.7 908.62,886.92" fill="#fff" stroke="#00804f" stroke-width="3.2"/>
<polygon points="951.4,822.9 959.18,826.12 962.4,833.9 959.18,841.68 951.4,844.9 943.62,841.68 940.4,833.9 943.62,826.12" fill="#fff" stroke="#00804f" stroke-width="3.2"/>
<polygon points="980.2,836.3 987.98,839.52 991.2,847.3 987.98,855.08 980.2,858.3 972.42,855.08 969.2,847.3 972.42,839.52" fill="#fff" stroke="#00804f" stroke-width="3.2"/>
<polygon points="1005.4,877.5 1013.18,880.72 1016.4,888.5 1013.18,896.28 1005.4,899.5 997.62,896.28 994.4,888.5 997.62,880.72" fill="#fff" stroke="#00804f" stroke-width="3.2"/>
<polygon points="1043.7,896 1051.48,899.22 1054.7,907 1051.48,914.78 1043.7,918 1035.92,914.78 1032.7,907 1035.92,899.22" fill="#fff" stroke="#00804f" stroke-width="3.2"/>
<polygon points="1063.3,878.1 1071.08,881.32 1074.3,889.1 1071.08,896.88 1063.3,900.1 1055.52,896.88 1052.3,889.1 1055.52,881.32" fill="#fff" stroke="#00804f" stroke-width="3.2"/>
<polygon points="1101.8,890.5 1109.58,893.72 1112.8,901.5 1109.58,909.28 1101.8,912.5 1094.02,909.28 1090.8,901.5 1094.02,893.72" fill="#fff" stroke="#00804f" stroke-width="3.2"/>
<polygon points="1136.8,884.3 1144.58,887.52 1147.8,895.3 1144.58,903.08 1136.8,906.3 1129.02,903.08 1125.8,895.3 1129.02,887.52" fill="#fff" stroke="#00804f" stroke-width="3.2"/>
<polygon points="1162.2,903.2 1169.98,906.42 1173.2,914.2 1169.98,921.98 1162.2,925.2 1154.42,921.98 1151.2,914.2 1154.42,906.42" fill="#fff" stroke="#00804f" stroke-width="3.2"/>
<polygon points="1280.9,855.4 1288.68,858.62 1291.9,866.4 1288.68,874.18 1280.9,877.4 1273.12,874.18 1269.9,866.4 1273.12,858.62" fill="#fff" stroke="#00804f" stroke-width="3.2"/>
<polygon points="1334.7,858.1 1342.48,861.32 1345.7,869.1 1342.48,876.88 1334.7,880.1 1326.92,876.88 1323.7,869.1 1326.92,861.32" fill="#fff" stroke="#00804f" stroke-width="3.2"/>
<polygon points="1366.8,864.8 1374.58,868.02 1377.8,875.8 1374.58,883.58 1366.8,886.8 1359.02,883.58 1355.8,875.8 1359.02,868.02" fill="#fff" stroke="#00804f" stroke-width="3.2"/>
<polygon points="1446.9,848.7 1454.68,851.92 1457.9,859.7 1454.68,867.48 1446.9,870.7 1439.12,867.48 1435.9,859.7 1439.12,851.92" fill="#fff" stroke="#00804f" stroke-width="3.2"/>
<polygon points="1510.8,839.5 1518.58,842.72 1521.8,850.5 1518.58,858.28 1510.8,861.5 1503.02,858.28 1499.8,850.5 1503.02,842.72" fill="#fff" stroke="#00804f" stroke-width="3.2"/>
<text x="887.5" y="752.5" font-size="28.5" text-anchor="start" fill="#000" font-weight="bold">b4</text>
<rect x="870" y="930" width="671" height="229" fill="#fff"/>
<path d="M870 1159V1152.3M870 930V936.7M1000.74 1159V1152.3M1000.74 930V936.7M1131.49 1159V1152.3M1131.49 930V936.7M1258.01 1159V1152.3M1258.01 930V936.7M1388.75 1159V1152.3M1388.75 930V936.7M1515.28 1159V1152.3M1515.28 930V936.7M870 1159H876.7M870 1082.5H876.7M870 1006.7H876.7" stroke="#262626" stroke-width="1.7" fill="none"/>
<path d="M1541 1159H1534.3M1541 1082.5H1534.3M1541 1006.7H1534.3" stroke="#262626" stroke-width="1.7" fill="none"/>
<path d="M870 930H1541M870 1159H1541M870 930V1159" stroke="#262626" stroke-width="1.8" fill="none" stroke-linecap="square"/>
<path d="M1541 930V1159" stroke="#262626" stroke-width="1.7" fill="none" stroke-linecap="square"/>
<polygon points="916.4,1131.8 925.7,1148 907.1,1148" fill="none" stroke="#0000ff" stroke-width="3"/>
<polygon points="951.4,1096.3 960.7,1112.5 942.1,1112.5" fill="none" stroke="#0000ff" stroke-width="3"/>
<polygon points="980.2,1096.3 989.5,1112.5 970.9,1112.5" fill="none" stroke="#0000ff" stroke-width="3"/>
<polygon points="1005.4,1118.4 1014.7,1134.6 996.1,1134.6" fill="none" stroke="#0000ff" stroke-width="3"/>
<polygon points="1043.7,1127.6 1053,1143.8 1034.4,1143.8" fill="none" stroke="#0000ff" stroke-width="3"/>
<polygon points="1063.3,1127.6 1072.6,1143.8 1054,1143.8" fill="none" stroke="#0000ff" stroke-width="3"/>
<polygon points="1101.8,1127.6 1111.1,1143.8 1092.5,1143.8" fill="none" stroke="#0000ff" stroke-width="3"/>
<polygon points="1136.8,1134.9 1146.1,1151.1 1127.5,1151.1" fill="none" stroke="#0000ff" stroke-width="3"/>
<polygon points="1162.2,1131.8 1171.5,1148 1152.9,1148" fill="none" stroke="#0000ff" stroke-width="3"/>
<polygon points="1191.1,1135.4 1200.4,1151.6 1181.8,1151.6" fill="none" stroke="#0000ff" stroke-width="3"/>
<polygon points="1280.9,1121.9 1290.2,1138.1 1271.6,1138.1" fill="none" stroke="#0000ff" stroke-width="3"/>
<polygon points="1334.7,1129 1344,1145.2 1325.4,1145.2" fill="none" stroke="#0000ff" stroke-width="3"/>
<polygon points="1366.8,1105.5 1376.1,1121.7 1357.5,1121.7" fill="none" stroke="#0000ff" stroke-width="3"/>
<polygon points="1446.9,1080.4 1456.2,1096.6 1437.6,1096.6" fill="none" stroke="#0000ff" stroke-width="3"/>
<polygon points="1510.8,1105.5 1520.1,1121.7 1501.5,1121.7" fill="none" stroke="#0000ff" stroke-width="3"/>
<polygon points="907.1,1107.8 925.7,1107.8 916.4,1124.4" fill="none" stroke="#00804f" stroke-width="3"/>
<polygon points="942.1,999.2 960.7,999.2 951.4,1015.8" fill="none" stroke="#00804f" stroke-width="3"/>
<polygon points="970.9,1040.4 989.5,1040.4 980.2,1057" fill="none" stroke="#00804f" stroke-width="3"/>
<polygon points="996.1,1075.8 1014.7,1075.8 1005.4,1092.4" fill="none" stroke="#00804f" stroke-width="3"/>
<polygon points="1034.4,1120.1 1053,1120.1 1043.7,1136.7" fill="none" stroke="#00804f" stroke-width="3"/>
<polygon points="1054,1098.1 1072.6,1098.1 1063.3,1114.7" fill="none" stroke="#00804f" stroke-width="3"/>
<polygon points="1092.5,1117.1 1111.1,1117.1 1101.8,1133.7" fill="none" stroke="#00804f" stroke-width="3"/>
<polygon points="1127.5,1110.9 1146.1,1110.9 1136.8,1127.5" fill="none" stroke="#00804f" stroke-width="3"/>
<polygon points="1152.9,1120.1 1171.5,1120.1 1162.2,1136.7" fill="none" stroke="#00804f" stroke-width="3"/>
<polygon points="1181.8,1116.8 1200.4,1116.8 1191.1,1133.4" fill="none" stroke="#00804f" stroke-width="3"/>
<polygon points="1271.6,1091.7 1290.2,1091.7 1280.9,1108.3" fill="none" stroke="#00804f" stroke-width="3"/>
<polygon points="1325.4,1110.8 1344,1110.8 1334.7,1127.4" fill="none" stroke="#00804f" stroke-width="3"/>
<polygon points="1357.5,944.8 1376.1,944.8 1366.8,961.4" fill="none" stroke="#00804f" stroke-width="3"/>
<polygon points="1437.6,1018.4 1456.2,1018.4 1446.9,1035" fill="none" stroke="#00804f" stroke-width="3"/>
<polygon points="1501.5,1005.4 1520.1,1005.4 1510.8,1022" fill="none" stroke="#00804f" stroke-width="3"/>
<text x="887.5" y="979.5" font-size="28.5" text-anchor="start" fill="#000" font-weight="bold">b5</text>
<text transform="translate(117.5 258.9) scale(1 1.065)" font-size="29" text-anchor="end" fill="#262626">0</text>
<text transform="translate(117.5 182.6) scale(1 1.065)" font-size="29" text-anchor="end" fill="#262626">10</text>
<text transform="translate(117.5 106.4) scale(1 1.065)" font-size="29" text-anchor="end" fill="#262626">20</text>
<text transform="translate(117.5 30.1) scale(1 1.065)" font-size="29" text-anchor="end" fill="#262626">30</text>
<text transform="translate(117.5 486.1) scale(1 1.065)" font-size="29" text-anchor="end" fill="#262626">0</text>
<text transform="translate(117.5 421.1) scale(1 1.065)" font-size="29" text-anchor="end" fill="#262626">0.1</text>
<text transform="translate(117.5 356.1) scale(1 1.065)" font-size="29" text-anchor="end" fill="#262626">0.2</text>
<text transform="translate(117.5 291.1) scale(1 1.065)" font-size="29" text-anchor="end" fill="#262626">0.3</text>
<text transform="translate(117.5 714.1) scale(1 1.065)" font-size="29" text-anchor="end" fill="#262626">0</text>
<text transform="translate(117.5 638) scale(1 1.065)" font-size="29" text-anchor="end" fill="#262626">0.2</text>
<text transform="translate(117.5 561.8) scale(1 1.065)" font-size="29" text-anchor="end" fill="#262626">0.4</text>
<text transform="translate(117.5 941.1) scale(1 1.065)" font-size="29" text-anchor="end" fill="#262626">0</text>
<text transform="translate(117.5 866) scale(1 1.065)" font-size="29" text-anchor="end" fill="#262626">10</text>
<text transform="translate(117.5 790) scale(1 1.065)" font-size="29" text-anchor="end" fill="#262626">20</text>
<text transform="translate(117.5 1170.1) scale(1 1.065)" font-size="29" text-anchor="end" fill="#262626">0</text>
<text transform="translate(117.5 1093.6) scale(1 1.065)" font-size="29" text-anchor="end" fill="#262626">20</text>
<text transform="translate(117.5 1017.8) scale(1 1.065)" font-size="29" text-anchor="end" fill="#262626">40</text>
<text transform="translate(854 258.9) scale(1 1.065)" font-size="29" text-anchor="end" fill="#262626">0</text>
<text transform="translate(854 144.5) scale(1 1.065)" font-size="29" text-anchor="end" fill="#262626">20</text>
<text transform="translate(854 30.1) scale(1 1.065)" font-size="29" text-anchor="end" fill="#262626">40</text>
<text transform="translate(854 486.1) scale(1 1.065)" font-size="29" text-anchor="end" fill="#262626">0</text>
<text transform="translate(854 410) scale(1 1.065)" font-size="29" text-anchor="end" fill="#262626">0.1</text>
<text transform="translate(854 334.4) scale(1 1.065)" font-size="29" text-anchor="end" fill="#262626">0.2</text>
<text transform="translate(1553 258.9) scale(1 1.065)" font-size="29" text-anchor="start" fill="#000">0</text>
<text transform="translate(1553 144.5) scale(1 1.065)" font-size="29" text-anchor="start" fill="#000">0.5</text>
<text transform="translate(1553 30.1) scale(1 1.065)" font-size="29" text-anchor="start" fill="#000">1</text>
<text transform="translate(1553 486.1) scale(1 1.065)" font-size="29" text-anchor="start" fill="#000">0</text>
<text transform="translate(1553 429.1) scale(1 1.065)" font-size="29" text-anchor="start" fill="#000">0.3</text>
<text transform="translate(1553 372.4) scale(1 1.065)" font-size="29" text-anchor="start" fill="#000">0.6</text>
<text transform="translate(1553 315.7) scale(1 1.065)" font-size="29" text-anchor="start" fill="#000">0.9</text>
<text transform="translate(1553 714.1) scale(1 1.065)" font-size="29" text-anchor="start" fill="#000">0</text>
<text transform="translate(1553 638.1) scale(1 1.065)" font-size="29" text-anchor="start" fill="#000">2</text>
<text transform="translate(1553 562.1) scale(1 1.065)" font-size="29" text-anchor="start" fill="#000">4</text>
<text x="132" y="1200" font-size="29" text-anchor="middle" fill="#262626">Jul</text>
<text x="262.53" y="1200" font-size="29" text-anchor="middle" fill="#262626">Aug</text>
<text x="393.05" y="1200" font-size="29" text-anchor="middle" fill="#262626">Sep</text>
<text x="519.37" y="1200" font-size="29" text-anchor="middle" fill="#262626">Oct</text>
<text x="649.89" y="1200" font-size="29" text-anchor="middle" fill="#262626">Nov</text>
<text x="776.21" y="1200" font-size="29" text-anchor="middle" fill="#262626">Dec</text>
<text x="869" y="1200" font-size="29" text-anchor="middle" fill="#262626">Jul</text>
<text x="999.74" y="1200" font-size="29" text-anchor="middle" fill="#262626">Aug</text>
<text x="1130.49" y="1200" font-size="29" text-anchor="middle" fill="#262626">Sep</text>
<text x="1257.01" y="1200" font-size="29" text-anchor="middle" fill="#262626">Oct</text>
<text x="1387.75" y="1200" font-size="29" text-anchor="middle" fill="#262626">Nov</text>
<text x="1514.28" y="1200" font-size="29" text-anchor="middle" fill="#262626">Dec</text>
<text transform="translate(28.8 133.45) rotate(-90)" font-size="29" text-anchor="middle" fill="#262626">Chl-a,PC,PE (<tspan font-family="Liberation Serif" font-style="italic">&#956;</tspan>g L<tspan font-size="23" dx="1.7" dy="-12.6">-</tspan><tspan font-size="23" dx="2.7">1</tspan><tspan dx="-0.6" dy="12.6">)</tspan></text>
<text transform="translate(70.3 131.8) rotate(-90)" font-size="29" text-anchor="middle" fill="#262626">T (<tspan font-size="23" dy="-12.6">o</tspan><tspan dy="12.6">C)</tspan></text>
<text transform="translate(22.8 361) rotate(-90)" font-size="29" text-anchor="middle" fill="#262626">PolyP</text>
<text transform="translate(63.5 361) rotate(-90)" font-size="29" text-anchor="middle" fill="#262626">(<tspan dx="1.4" font-family="Liberation Serif" font-style="italic">&#956;</tspan><tspan dx="1.5">m</tspan>ol eq L<tspan font-size="23" dx="5.1" dy="-12.6">-</tspan><tspan font-size="23" dx="2.7">1</tspan><tspan dx="-0.6" dy="12.6">)</tspan></text>
<text transform="translate(22.8 589) rotate(-90)" font-size="29" text-anchor="middle" fill="#262626">PolyP:PP</text>
<text transform="translate(63.5 589) rotate(-90)" font-size="29" text-anchor="middle" fill="#262626">(mol eq mol<tspan font-size="23" dx="3.35" dy="-12.6">-</tspan><tspan font-size="23" dx="2.7">1</tspan><tspan dx="-0.6" dy="12.6">)</tspan></text>
<text transform="translate(30 816.5) rotate(-90)" font-size="29" text-anchor="middle" fill="#262626">PolyP:Chl-a</text>
<text transform="translate(70.5 816.5) rotate(-90)" font-size="29" text-anchor="middle" fill="#262626">(mmol eq g<tspan font-size="23" dx="3.4" dy="-12.6">-</tspan><tspan font-size="23" dx="2.7">1</tspan><tspan dx="-0.6" dy="12.6">)</tspan></text>
<text transform="translate(30 1044.5) rotate(-90)" font-size="29" text-anchor="middle" fill="#262626">PolyP:PC, PolyP:PE</text>
<text transform="translate(70.5 1044.5) rotate(-90)" font-size="29" text-anchor="middle" fill="#262626">(mmol eq g<tspan font-size="23" dx="3.4" dy="-12.6">-</tspan><tspan font-size="23" dx="2.7">1</tspan><tspan dx="-0.6" dy="12.6">)</tspan></text>
<text transform="translate(1641 132.8) rotate(-90)" font-size="29" text-anchor="middle" fill="#0000ff">SRP (<tspan dx="1.4" font-family="Liberation Serif" font-style="italic">&#956;</tspan><tspan dx="1.5">m</tspan>ol L<tspan font-size="23" dx="3.1" dy="-12.6">-</tspan><tspan font-size="23" dx="2.7">1</tspan><tspan dx="-0.6" dy="12.6">)</tspan></text>
<text transform="translate(1641 361.1) rotate(-90)" font-size="29" text-anchor="middle" fill="#000">TPP (<tspan dx="1.4" font-family="Liberation Serif" font-style="italic">&#956;</tspan><tspan dx="1.5">m</tspan>ol L<tspan font-size="23" dx="3.1" dy="-12.6">-</tspan><tspan font-size="23" dx="2.7">1</tspan><tspan dx="-0.6" dy="12.6">)</tspan></text>
<text transform="translate(1615 591.8) rotate(-90)" font-size="29" text-anchor="middle" fill="#000">APase:TPP (h<tspan font-size="23" dy="-12.6" dx="-8">-</tspan><tspan font-size="23" dx="3.8">1</tspan><tspan dy="12.6" dx="0">)</tspan></text>
<text x="529.5" y="90.8" font-size="27" text-anchor="start" fill="#808080" font-weight="bold">T</text>
<text x="697.9" y="76.2" font-size="29" text-anchor="start" fill="#0000ff">SRP</text>
<text x="1267.5" y="109.9" font-size="27" text-anchor="start" fill="#808080" font-weight="bold">T</text>
<text x="1436.8" y="110.3" font-size="29" text-anchor="start" fill="#0000ff">SRP</text>
<text x="529.7" y="317.2" font-size="29" text-anchor="start" fill="#000">TPP</text>
<text x="404" y="404.3" font-size="29" text-anchor="start" fill="#ff0000">PolyP</text>
<text x="1098.7" y="296.5" font-size="29" text-anchor="start" fill="#000">TPP</text>
<text x="1183.4" y="402" font-size="29" text-anchor="start" fill="#ff0000">PolyP</text>
<line x1="36.7" y1="1264.5" x2="132.4" y2="1264.5" stroke="#808080" stroke-width="4.5"/>
<text x="142.6" y="1275.4" font-size="29" text-anchor="start" fill="#000">T</text>
<line x1="36.9" y1="1301.0" x2="120.0" y2="1301.0" stroke="#0000ff" stroke-width="1.8" stroke-dasharray="31.5 19.2"/>
<rect x="78.7" y="1295" width="12.6" height="12.6" fill="#fff" stroke="#0000ff" stroke-width="3"/>
<text x="142.3" y="1312.7" font-size="29" text-anchor="start" fill="#000">SRP</text>
<polygon points="247.8,1242.2 255.65,1245.45 258.9,1253.3 255.65,1261.15 247.8,1264.4 239.95,1261.15 236.7,1253.3 239.95,1245.45" fill="#d2e600" stroke="#00804f" stroke-width="3.5"/>
<polygon points="253.8,1291.4 250.8,1296.6 244.8,1296.6 241.8,1291.4 244.8,1286.2 250.8,1286.2" fill="#00804f"/>
<polygon points="247.8,1315.4 258.2,1333.4 237.4,1333.4" fill="#00ffff"/>
<polygon points="237.4,1359 258.2,1359 247.8,1377" fill="#00ff00"/>
<text x="304.8" y="1268" font-size="29" text-anchor="start" fill="#000">Chl-a (&gt;2 <tspan dx="1.4" font-family="Liberation Serif" font-style="italic">&#956;</tspan><tspan dx="1.5">m</tspan>)</text>
<text x="304.8" y="1306" font-size="29" text-anchor="start" fill="#000">Chl-a (0.2-2 <tspan dx="1.4" font-family="Liberation Serif" font-style="italic">&#956;</tspan><tspan dx="1.5">m</tspan>)</text>
<text x="304.8" y="1340" font-size="29" text-anchor="start" fill="#000">PC (&gt;0.2 <tspan dx="1.4" font-family="Liberation Serif" font-style="italic">&#956;</tspan><tspan dx="1.5">m</tspan>)</text>
<text x="304.8" y="1379" font-size="29" text-anchor="start" fill="#000">PE (&gt;0.2 <tspan dx="1.4" font-family="Liberation Serif" font-style="italic">&#956;</tspan><tspan dx="1.5">m</tspan>)</text>
<line x1="571.1" y1="1258.0" x2="665.6" y2="1258.0" stroke="#000" stroke-width="1.7" stroke-dasharray="3.7 9.2"/>
<polygon points="618.8,1250.4 625.59,1253.21 628.4,1260 625.59,1266.79 618.8,1269.6 612.01,1266.79 609.2,1260 612.01,1253.21" fill="#b3b3b3" stroke="#000" stroke-width="3.6"/>
<polygon points="618.8,1284 626.44,1287.16 629.6,1294.8 626.44,1302.44 618.8,1305.6 611.16,1302.44 608,1294.8 611.16,1287.16" fill="#ffcccc" stroke="#ff0000" stroke-width="3.6"/>
<polygon points="624.9,1329.7 621.85,1334.98 615.75,1334.98 612.7,1329.7 615.75,1324.42 621.85,1324.42" fill="#ff0000"/>
<path d="M612.8 1363.8H626.6M619.7 1356.9V1370.7" stroke="#000" stroke-width="2.1" fill="none"/>
<text x="677.5" y="1268.6" font-size="29" text-anchor="start" fill="#000">TPP</text>
<text x="678.2" y="1309.4" font-size="29" text-anchor="start" fill="#000">PolyP (&gt;2 <tspan dx="1.4" font-family="Liberation Serif" font-style="italic">&#956;</tspan><tspan dx="1.5">m</tspan>)</text>
<text x="678.2" y="1343.3" font-size="29" text-anchor="start" fill="#000">PolyP (0.2-2 <tspan dx="1.4" font-family="Liberation Serif" font-style="italic">&#956;</tspan><tspan dx="1.5">m</tspan>)</text>
<text x="676" y="1373.9" font-size="29" text-anchor="start" fill="#000">APase:TPP</text>
<polygon points="960.9,1239 968.68,1242.22 971.9,1250 968.68,1257.78 960.9,1261 953.12,1257.78 949.9,1250 953.12,1242.22" fill="#fff" stroke="#b4814b" stroke-width="3.2"/>
<polygon points="965.8,1250 963.35,1254.24 958.45,1254.24 956,1250 958.45,1245.76 963.35,1245.76" fill="#b4814b"/>
<polygon points="960.9,1277.3 968.68,1280.52 971.9,1288.3 968.68,1296.08 960.9,1299.3 953.12,1296.08 949.9,1288.3 953.12,1280.52" fill="#fff" stroke="#b4814b" stroke-width="3.2"/>
<polygon points="960.9,1310.2 968.68,1313.42 971.9,1321.2 968.68,1328.98 960.9,1332.2 953.12,1328.98 949.9,1321.2 953.12,1313.42" fill="#fff" stroke="#00804f" stroke-width="3.2"/>
<polygon points="965.8,1321.2 963.35,1325.44 958.45,1325.44 956,1321.2 958.45,1316.96 963.35,1316.96" fill="#00804f"/>
<polygon points="960.9,1347.6 968.68,1350.82 971.9,1358.6 968.68,1366.38 960.9,1369.6 953.12,1366.38 949.9,1358.6 953.12,1350.82" fill="#fff" stroke="#00804f" stroke-width="3.2"/>
<text x="1021.3" y="1263.5" font-size="29" text-anchor="start" fill="#000">PolyP:PP (&gt;0.2 <tspan dx="1.4" font-family="Liberation Serif" font-style="italic">&#956;</tspan><tspan dx="1.5">m</tspan>)</text>
<text x="1021.3" y="1299.2" font-size="29" text-anchor="start" fill="#000">PolyP:PP (&gt;2 <tspan dx="1.4" font-family="Liberation Serif" font-style="italic">&#956;</tspan><tspan dx="1.5">m</tspan>)</text>
<text x="1018" y="1334.8" font-size="29" text-anchor="start" fill="#000">PolyP:Chl-a (&gt;0.2 <tspan dx="1.4" font-family="Liberation Serif" font-style="italic">&#956;</tspan><tspan dx="1.5">m</tspan>)</text>
<text x="1018" y="1370.5" font-size="29" text-anchor="start" fill="#000">PolyP:Chl-a (&gt;2 <tspan dx="1.4" font-family="Liberation Serif" font-style="italic">&#956;</tspan><tspan dx="1.5">m</tspan>)</text>
<polygon points="1335.1,1262.1 1344.4,1278.3 1325.8,1278.3" fill="none" stroke="#0000ff" stroke-width="3"/>
<polygon points="1325.8,1302.8 1344.4,1302.8 1335.1,1319.4" fill="none" stroke="#00804f" stroke-width="3"/>
<text x="1395.5" y="1282.9" font-size="29" text-anchor="start" fill="#000">PolyP:PC (&gt;0.2 <tspan dx="1.4" font-family="Liberation Serif" font-style="italic">&#956;</tspan><tspan dx="1.5">m</tspan>)</text>
<text x="1395.5" y="1322.3" font-size="29" text-anchor="start" fill="#000">PolyP:PE (&gt;0.2 <tspan dx="1.4" font-family="Liberation Serif" font-style="italic">&#956;</tspan><tspan dx="1.5">m</tspan>)</text>
</svg></body></html>
